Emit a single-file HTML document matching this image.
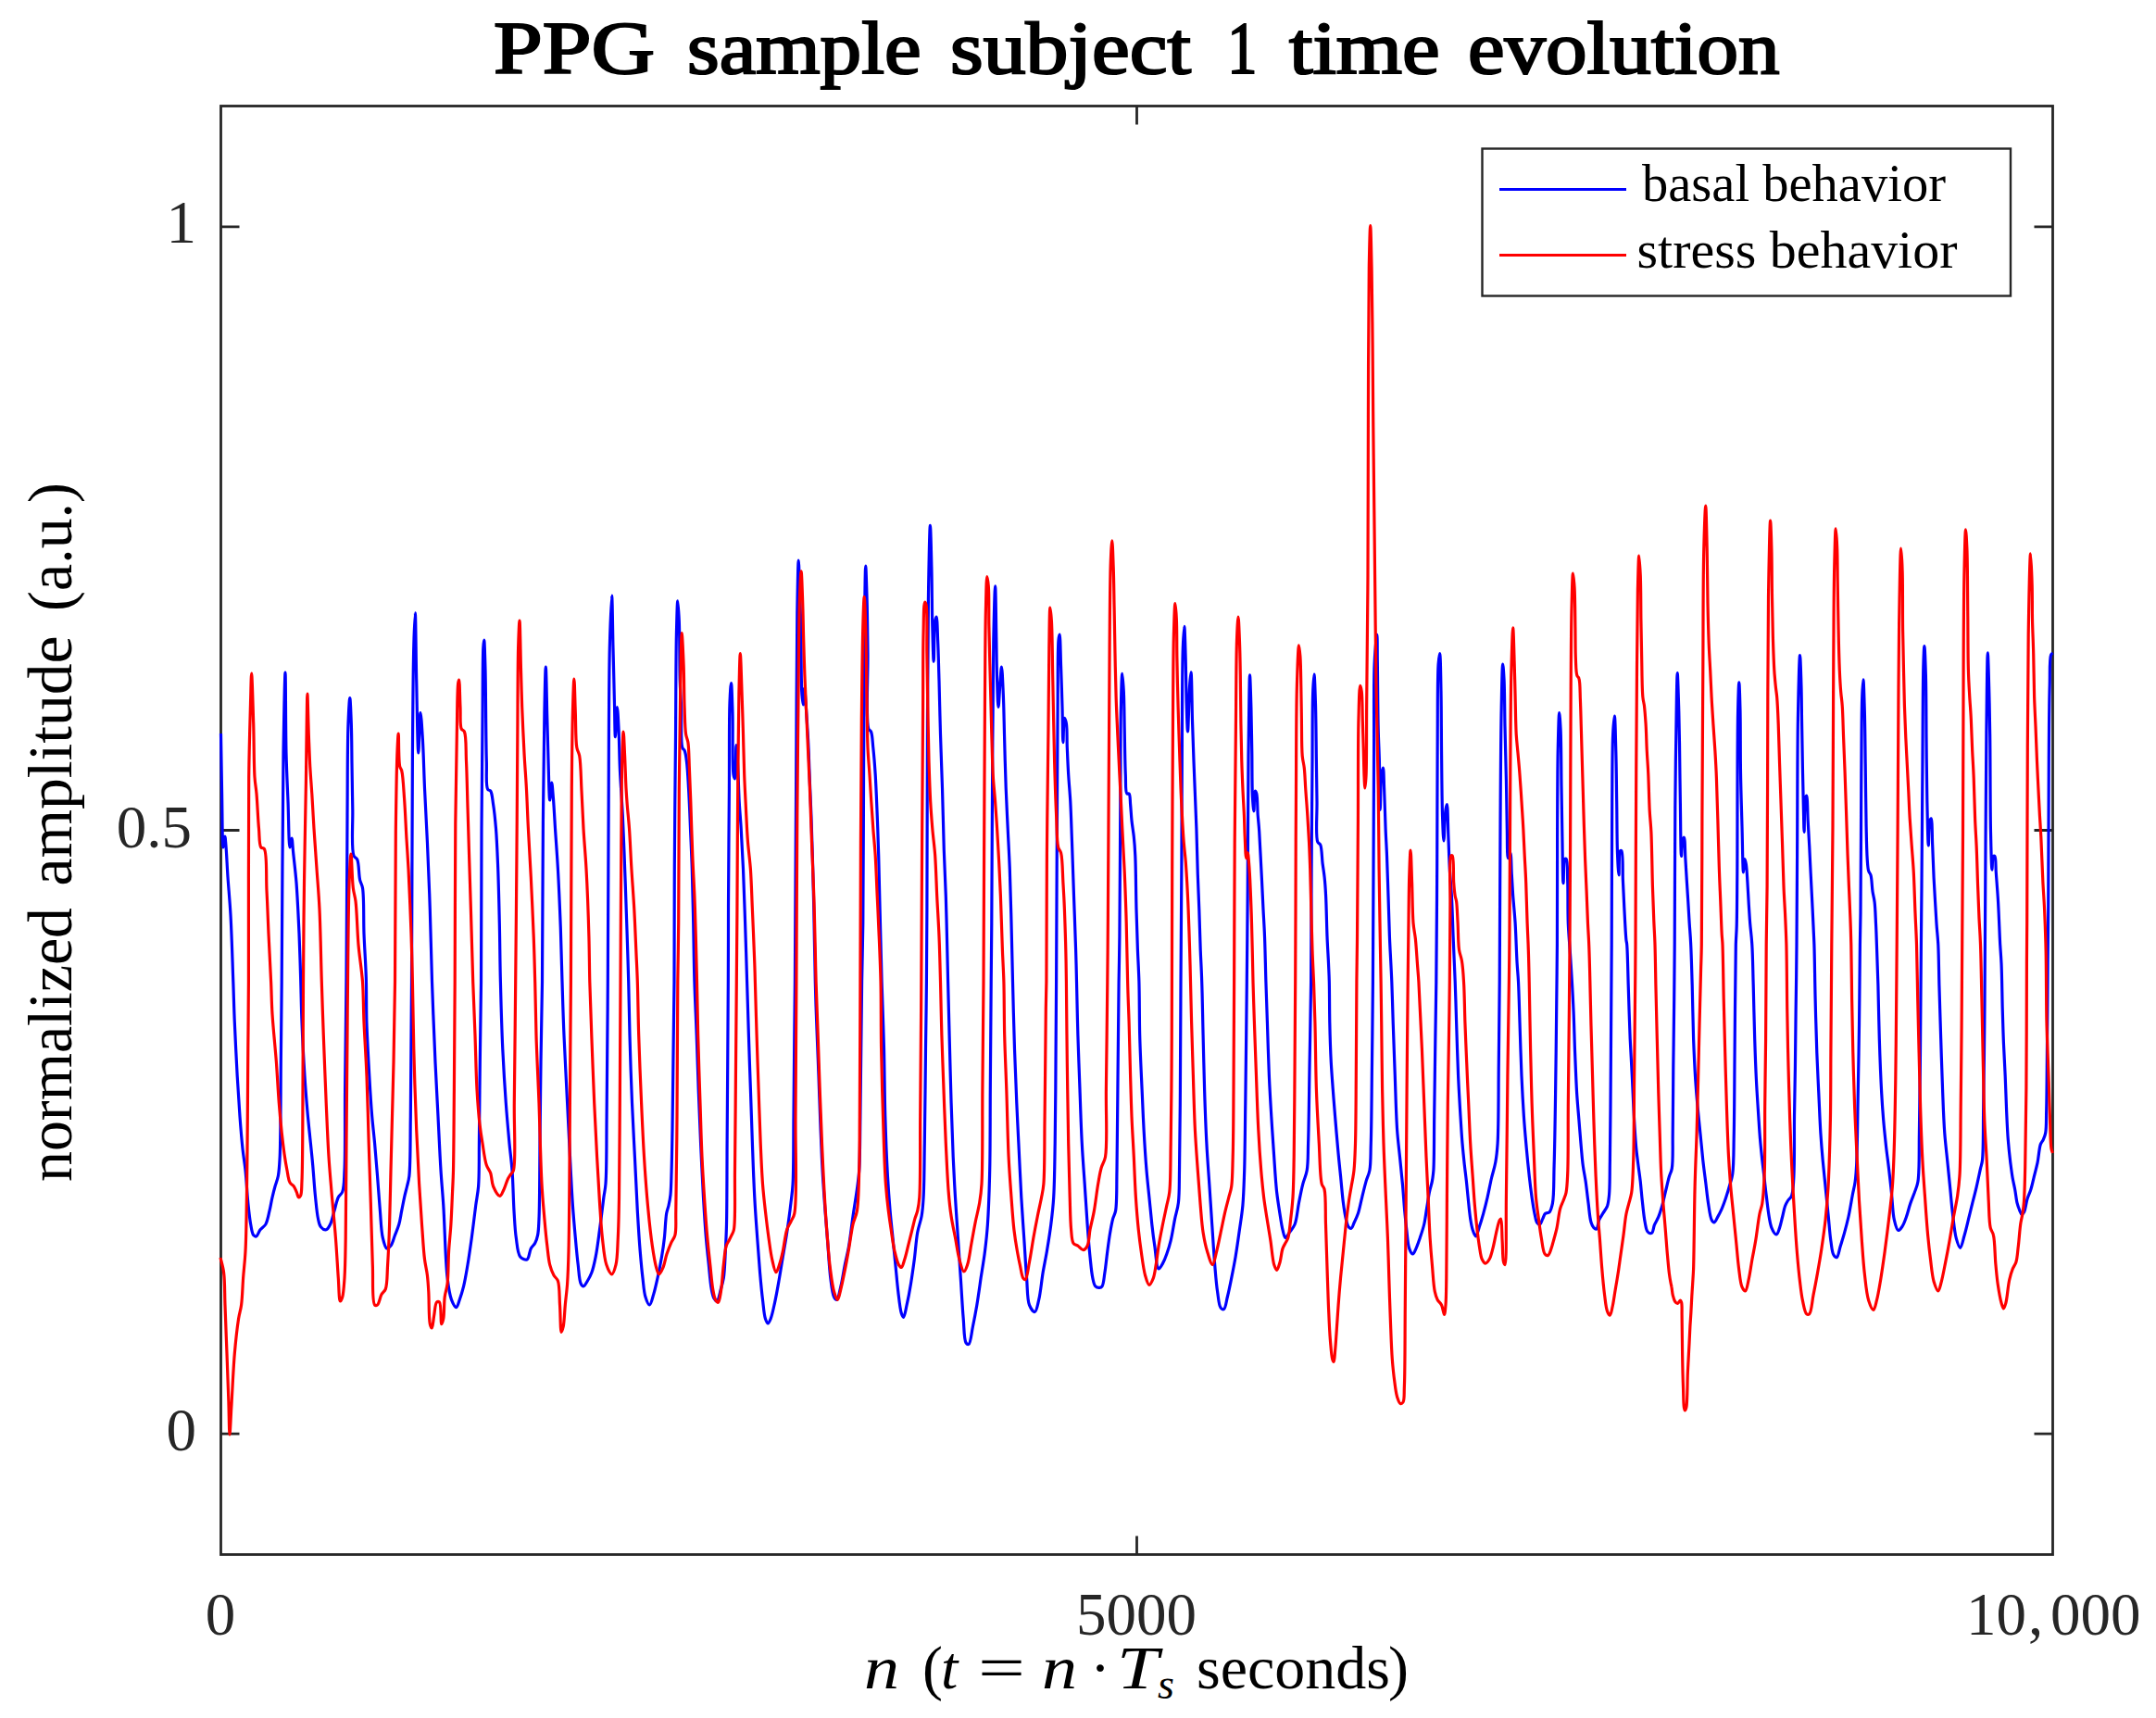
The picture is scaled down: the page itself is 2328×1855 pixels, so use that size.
<!DOCTYPE html>
<html><head><meta charset="utf-8"><title>PPG sample subject 1 time evolution</title>
<style>
html,body{margin:0;padding:0;background:#fff;}
body{width:2328px;height:1855px;overflow:hidden;}
svg{display:block;}
.t{font-family:"Liberation Serif","DejaVu Serif",serif;}
</style></head><body>
<svg width="2328" height="1855" viewBox="0 0 2328 1855">
<rect x="0" y="0" width="2328" height="1855" fill="#fff"/>
<g stroke="#262626" stroke-width="2.8" fill="none">
<rect x="238.5" y="114.5" width="1978" height="1564"/>
<path d="M238.5 244.8h20M238.5 896.5h20M238.5 1548.2h20M2216.5 244.8h-20M2216.5 896.5h-20M2216.5 1548.2h-20M1227.5 1678.5v-20M1227.5 114.5v20"/>
</g>
<g fill="none" stroke-width="3.2" stroke-linejoin="round">
<path stroke="#0000ff" d="M238.5,792.0C238.7,802.8 239.2,836.0 239.6,857.0C240.0,876.9 240.0,914.9 241.0,915.0C241.5,915.0 242.3,903.0 242.8,903.0C243.3,903.0 243.6,909.1 244.0,913.6C244.7,921.6 245.2,935.3 246.0,947.0C246.9,960.0 248.1,972.4 249.0,988.0C250.2,1008.6 251.0,1039.0 251.8,1060.0C252.4,1076.4 252.6,1088.1 253.3,1103.7C254.1,1121.7 255.2,1144.0 256.2,1162.0C257.1,1177.6 258.0,1191.8 259.0,1205.5C259.9,1217.8 260.9,1229.9 262.0,1240.4C262.9,1249.0 264.1,1255.1 265.0,1263.7C266.1,1274.2 266.7,1288.1 267.8,1298.6C268.7,1307.2 269.5,1315.6 270.7,1322.0C271.6,1326.6 272.1,1331.7 273.7,1333.6C274.5,1334.6 275.7,1335.3 276.6,1335.0C278.1,1334.6 279.3,1330.0 281.0,1327.8C282.7,1325.7 285.2,1324.6 286.8,1322.0C288.9,1318.4 289.8,1312.3 291.0,1307.4C292.2,1302.6 292.9,1297.4 294.0,1292.8C295.0,1288.6 295.9,1284.9 297.0,1281.0C298.1,1277.1 299.6,1273.9 300.4,1269.5C301.5,1263.7 301.7,1258.4 302.2,1249.0C303.2,1228.0 303.0,1179.6 303.3,1147.0C303.6,1116.8 303.9,1096.4 304.2,1060.0C304.7,998.7 305.1,874.3 306.0,813.0C306.6,776.6 307.5,726.0 308.0,726.0C308.5,726.0 308.4,787.6 309.0,813.0C309.5,832.7 310.3,848.3 311.0,865.6C311.7,882.3 311.8,914.9 313.0,915.0C313.6,915.0 314.4,905.0 315.0,905.0C315.7,905.0 316.0,914.8 316.7,921.0C317.6,929.8 319.0,940.9 320.0,953.0C321.2,968.9 322.2,990.4 323.0,1008.0C323.7,1024.3 324.1,1039.2 324.6,1055.0C325.1,1071.1 325.3,1086.7 326.0,1103.7C326.7,1122.3 327.9,1144.7 329.0,1162.0C329.9,1175.9 330.9,1188.0 331.9,1199.7C332.8,1210.0 333.8,1219.1 334.8,1228.8C335.8,1238.5 336.8,1247.8 337.7,1258.0C338.7,1269.1 339.5,1282.4 340.6,1292.8C341.5,1301.3 342.2,1310.2 343.5,1316.0C344.3,1319.7 344.7,1322.8 346.4,1324.8C347.8,1326.5 350.5,1328.2 352.2,1327.8C354.0,1327.4 355.3,1324.5 356.6,1322.0C358.5,1318.4 359.5,1312.3 361.0,1307.4C362.4,1302.5 363.5,1296.4 365.3,1292.8C366.6,1290.3 368.6,1289.8 369.7,1287.0C371.7,1282.0 371.5,1274.0 372.0,1263.7C373.0,1243.9 372.3,1207.9 372.6,1176.4C372.9,1139.3 373.6,1099.2 374.0,1055.0C374.5,1002.0 374.6,930.1 375.0,880.0C375.3,842.3 375.1,803.8 376.0,781.0C376.5,769.0 377.2,753.5 377.8,753.5C378.3,753.5 378.9,770.8 379.3,781.0C379.8,793.9 379.8,809.9 380.0,825.0C380.3,840.9 380.5,857.6 380.8,874.0C381.1,890.6 379.1,916.8 382.0,924.0C383.0,926.4 384.7,925.9 385.7,928.0C387.7,932.2 387.3,944.4 388.6,950.0C389.4,953.6 390.8,954.5 391.5,958.7C393.2,968.4 392.4,991.8 393.0,1008.0C393.6,1023.9 394.8,1039.2 395.3,1055.0C395.8,1071.1 395.4,1086.7 395.9,1103.7C396.5,1122.3 397.8,1144.0 398.8,1162.0C399.7,1177.6 400.6,1192.5 401.7,1205.5C402.6,1216.2 403.7,1224.5 404.6,1234.6C405.6,1245.7 406.6,1257.6 407.5,1269.5C408.5,1281.9 409.4,1295.6 410.4,1307.4C411.3,1317.7 411.5,1329.1 413.3,1336.5C414.4,1341.3 415.8,1347.4 417.7,1348.0C418.9,1348.4 420.7,1346.6 422.0,1345.0C423.9,1342.6 425.0,1337.4 426.5,1333.6C428.0,1329.8 429.6,1326.1 430.8,1322.0C432.1,1317.5 432.7,1312.3 433.7,1307.4C434.7,1302.5 435.6,1297.4 436.6,1292.8C437.5,1288.6 438.6,1284.9 439.5,1281.0C440.4,1277.1 441.3,1274.9 441.9,1269.5C443.3,1256.8 442.9,1231.2 443.3,1205.5C443.9,1166.8 444.2,1114.7 444.5,1060.0C444.9,989.1 444.9,882.9 445.4,816.0C445.8,769.2 446.0,724.7 446.8,696.8C447.2,681.7 447.9,661.9 448.3,661.9C448.9,661.9 449.1,709.9 449.7,734.6C450.3,760.2 450.9,813.0 451.8,813.0C452.4,813.0 453.1,769.5 454.0,769.5C454.7,769.5 455.7,787.5 456.4,798.6C457.3,813.5 457.7,833.1 458.5,851.0C459.3,869.8 460.5,888.6 461.4,909.0C462.4,931.9 463.5,957.3 464.3,982.0C465.2,1007.6 465.6,1033.3 466.5,1060.0C467.5,1088.2 468.8,1120.9 470.0,1147.0C471.0,1168.4 472.0,1186.0 473.0,1205.5C474.0,1224.9 474.9,1246.4 476.0,1263.7C476.9,1277.7 477.8,1286.7 478.8,1301.6C480.2,1323.0 480.9,1361.6 483.1,1380.0C484.3,1390.1 485.3,1397.7 487.5,1403.4C488.9,1407.0 491.2,1411.7 492.7,1411.6C494.1,1411.5 495.1,1406.6 496.2,1403.4C497.7,1399.3 499.3,1394.3 500.6,1388.9C502.3,1382.1 503.6,1373.8 505.0,1365.6C506.5,1356.5 507.9,1346.6 509.3,1336.5C510.8,1325.4 512.4,1311.7 513.7,1301.6C514.7,1293.8 515.9,1289.3 516.6,1281.0C517.6,1268.7 517.2,1252.5 517.4,1234.6C517.7,1210.0 517.9,1176.1 518.3,1147.0C518.6,1117.9 519.2,1093.6 519.5,1060.0C519.9,1013.7 519.7,945.0 520.0,894.7C520.2,852.5 520.7,813.3 521.0,778.3C521.3,749.5 521.1,712.8 521.8,699.7C522.0,695.3 522.4,691.0 522.7,691.0C523.2,691.0 523.6,709.4 524.0,723.0C524.6,746.9 524.6,798.4 525.3,822.0C525.7,835.1 524.3,848.8 526.7,852.5C527.5,853.7 528.9,852.9 529.7,854.0C531.4,856.3 531.7,862.9 532.6,868.5C533.8,875.9 534.7,885.2 535.5,894.7C536.4,906.1 536.9,918.2 537.5,932.5C538.3,951.0 538.8,975.2 539.3,996.5C539.8,1017.7 539.8,1038.1 540.4,1060.0C541.0,1083.4 541.7,1109.9 542.8,1132.8C543.8,1153.3 545.0,1173.0 546.3,1191.0C547.4,1206.6 548.8,1221.5 550.0,1234.6C551.0,1245.3 552.2,1253.0 553.0,1263.7C554.0,1276.8 554.2,1294.3 555.0,1307.4C555.7,1318.1 556.0,1327.7 557.3,1336.5C558.4,1343.9 558.7,1353.3 561.7,1356.9C563.6,1359.1 567.1,1360.8 569.0,1360.0C571.4,1359.0 571.6,1351.2 573.3,1348.0C574.6,1345.6 576.5,1344.5 577.7,1342.3C579.0,1339.8 579.9,1337.1 580.6,1333.6C581.6,1328.8 581.6,1324.0 582.0,1316.0C582.8,1298.8 582.7,1262.2 583.0,1234.6C583.3,1205.9 583.6,1176.1 584.0,1147.0C584.4,1117.9 585.1,1093.9 585.5,1060.0C586.0,1012.5 585.9,940.8 586.4,888.9C586.8,845.5 587.3,800.7 587.9,769.5C588.3,749.4 588.8,720.0 589.3,720.0C589.8,720.0 590.3,757.2 590.8,775.4C591.3,793.1 591.7,811.9 592.2,827.7C592.6,840.9 593.0,864.0 593.7,864.0C594.2,864.0 595.1,845.0 595.7,845.0C596.3,845.0 596.9,855.9 597.5,862.7C598.2,871.8 598.8,883.2 599.5,894.7C600.4,908.0 601.5,922.2 602.4,938.0C603.5,957.3 604.5,981.2 605.3,1002.0C606.0,1021.8 606.4,1040.7 607.0,1060.0C607.6,1079.3 608.1,1097.6 609.0,1118.0C610.0,1140.9 611.5,1168.1 612.6,1191.0C613.6,1211.4 614.5,1230.1 615.5,1249.0C616.4,1267.0 617.3,1285.9 618.4,1301.6C619.3,1314.4 620.3,1325.4 621.3,1336.5C622.2,1346.6 623.1,1356.8 624.2,1365.6C625.1,1373.0 625.4,1382.4 627.2,1386.0C628.0,1387.6 629.0,1389.0 630.0,1388.9C631.3,1388.8 633.0,1385.2 634.4,1383.0C636.0,1380.4 637.5,1377.8 638.8,1374.3C640.6,1369.6 641.9,1363.5 643.2,1356.9C644.9,1348.5 646.1,1338.0 647.5,1327.8C649.0,1316.7 650.7,1302.0 651.9,1292.8C652.7,1286.8 653.5,1284.8 654.0,1278.0C655.2,1263.0 654.8,1233.8 655.1,1205.5C655.6,1165.4 656.0,1111.1 656.3,1060.0C656.7,1003.2 656.8,940.0 657.1,880.0C657.4,819.9 657.3,742.9 658.3,699.7C658.9,675.5 660.0,643.0 660.6,643.0C661.2,643.0 661.5,680.4 662.0,699.7C662.5,719.7 663.1,743.3 663.5,760.8C663.8,774.1 663.9,795.7 664.4,795.7C664.9,795.7 665.8,763.7 666.4,763.7C666.9,763.7 667.5,775.8 667.9,784.0C668.6,796.4 668.7,814.9 669.4,830.7C670.1,846.9 671.4,862.0 672.3,880.0C673.4,901.9 674.3,930.1 675.2,953.0C676.0,973.4 676.6,992.5 677.2,1011.0C677.8,1028.0 678.2,1043.0 678.7,1060.0C679.2,1078.5 679.4,1097.6 680.0,1118.0C680.6,1140.9 681.5,1168.1 682.5,1191.0C683.4,1211.4 684.4,1229.6 685.4,1249.0C686.4,1268.4 687.3,1289.4 688.3,1307.4C689.2,1323.0 690.1,1338.0 691.2,1351.0C692.1,1361.7 692.9,1371.2 694.0,1380.0C694.9,1387.4 695.3,1395.3 697.0,1400.5C698.1,1404.1 700.0,1409.1 701.4,1409.0C703.0,1408.9 704.4,1401.9 705.7,1397.6C707.3,1392.4 708.6,1386.3 710.0,1380.0C711.6,1372.8 713.2,1364.4 714.5,1356.9C715.7,1349.9 716.6,1343.8 717.4,1336.5C718.3,1328.3 718.6,1316.3 719.7,1310.0C720.3,1306.4 721.3,1304.6 722.0,1301.6C722.8,1298.1 723.5,1294.7 724.0,1290.0C724.7,1283.0 724.8,1273.6 725.1,1263.7C725.5,1251.0 725.7,1236.4 726.0,1220.0C726.3,1198.8 726.6,1172.4 726.9,1147.0C727.2,1119.3 727.8,1091.6 728.0,1060.0C728.3,1022.2 728.1,978.1 728.3,935.4C728.5,890.2 729.1,839.6 729.5,795.7C729.8,756.7 729.8,711.8 730.4,685.0C730.8,669.6 731.2,648.8 731.8,648.8C732.2,648.8 732.9,661.4 733.3,670.6C734.0,686.3 733.7,717.4 734.2,734.6C734.6,746.2 735.2,753.0 735.6,763.7C736.1,776.8 734.7,801.5 736.8,807.4C737.4,809.1 738.5,808.9 739.1,810.3C740.3,812.8 740.8,817.2 741.4,822.0C742.4,829.5 742.9,840.3 743.5,851.0C744.3,864.1 744.9,880.1 745.5,894.7C746.1,909.3 746.8,922.8 747.3,938.4C747.9,956.4 748.3,976.7 748.7,996.5C749.1,1017.2 749.3,1039.3 749.9,1060.0C750.5,1079.8 751.5,1098.6 752.2,1118.0C752.9,1137.4 753.5,1157.0 754.2,1176.4C754.9,1195.8 755.7,1215.2 756.6,1234.6C757.5,1254.0 758.5,1274.8 759.5,1292.8C760.4,1308.4 761.3,1323.4 762.4,1336.5C763.3,1347.2 764.3,1356.2 765.3,1365.6C766.2,1374.6 766.9,1385.1 768.2,1391.8C769.0,1396.0 769.7,1399.7 771.0,1402.0C771.8,1403.4 773.1,1405.1 774.0,1404.9C775.7,1404.5 777.2,1396.1 778.4,1391.8C779.6,1387.8 780.5,1384.8 781.3,1380.0C782.5,1372.5 782.8,1360.7 783.3,1351.0C783.8,1341.3 784.2,1334.3 784.5,1322.0C785.0,1300.7 784.9,1268.7 785.1,1234.6C785.4,1186.4 786.1,1107.2 786.3,1060.0C786.5,1027.9 786.4,1009.1 786.5,979.0C786.7,941.2 787.1,890.3 787.4,851.0C787.6,817.5 787.2,777.8 788.0,758.0C788.4,748.7 789.0,737.5 789.5,737.5C790.1,737.5 790.6,756.9 791.0,769.5C791.6,787.8 790.4,827.5 792.0,836.5C792.4,838.8 793.1,840.9 793.5,840.8C794.7,840.6 794.4,804.5 795.0,804.5C795.4,804.5 796.0,814.9 796.4,822.0C797.1,833.3 797.5,852.5 798.2,865.6C798.8,876.3 799.6,884.0 800.2,894.7C801.0,907.8 801.8,922.8 802.5,938.4C803.3,956.4 803.9,976.7 804.6,996.5C805.3,1017.2 806.0,1039.3 806.6,1060.0C807.2,1079.8 807.8,1098.6 808.4,1118.0C809.0,1137.4 809.7,1157.0 810.4,1176.4C811.1,1195.8 811.7,1215.2 812.4,1234.6C813.1,1254.0 813.8,1274.8 814.8,1292.8C815.6,1308.4 816.7,1322.5 817.7,1336.5C818.6,1349.6 819.6,1362.5 820.6,1374.3C821.5,1384.6 822.4,1394.6 823.5,1403.4C824.4,1410.8 824.9,1419.3 826.4,1423.8C827.2,1426.2 828.3,1429.0 829.3,1429.0C830.3,1429.0 831.3,1426.1 832.2,1423.8C833.8,1419.8 835.2,1412.6 836.6,1406.3C838.2,1399.1 839.6,1391.0 841.0,1383.0C842.5,1374.6 843.9,1365.6 845.3,1356.9C846.8,1348.2 848.3,1339.9 849.7,1330.7C851.2,1320.6 852.9,1308.1 854.0,1298.6C854.9,1291.1 855.6,1287.2 856.1,1278.3C857.1,1261.5 856.7,1230.9 857.0,1205.5C857.3,1177.7 857.5,1144.2 857.8,1118.0C858.0,1096.7 858.2,1082.3 858.4,1060.0C858.6,1029.7 858.8,991.8 859.0,952.9C859.3,906.1 859.6,848.5 859.9,798.6C860.2,751.7 860.2,697.6 860.8,661.9C861.2,638.8 861.7,605.0 862.2,605.0C862.6,605.0 863.0,622.5 863.4,632.8C863.9,645.7 864.4,660.2 864.8,676.4C865.3,697.0 864.9,731.7 865.7,746.3C866.1,753.0 866.7,760.8 867.2,760.8C867.7,760.8 868.1,743.4 868.6,743.4C869.0,743.4 869.6,752.6 870.0,758.0C870.5,764.8 871.0,773.2 871.5,781.2C872.0,789.7 872.6,797.9 873.0,807.4C873.5,818.8 873.9,832.9 874.4,845.2C874.9,857.1 875.4,867.8 875.9,880.1C876.4,893.8 876.8,908.2 877.3,923.8C877.8,941.8 878.3,961.2 878.8,982.0C879.3,1006.1 879.7,1037.7 880.3,1060.0C880.7,1076.7 881.1,1088.1 881.7,1103.7C882.3,1121.7 883.3,1142.5 884.0,1161.9C884.7,1181.3 885.4,1202.0 886.1,1220.0C886.7,1235.6 887.3,1249.1 888.1,1263.7C888.9,1278.3 890.0,1293.4 891.0,1307.4C892.0,1320.5 893.0,1332.9 894.0,1345.2C894.9,1357.0 895.5,1370.0 896.8,1380.0C897.8,1387.8 898.7,1396.9 900.6,1400.5C901.4,1402.1 902.6,1403.6 903.5,1403.4C905.2,1403.0 906.6,1394.3 907.9,1388.9C909.6,1382.1 910.8,1373.1 912.3,1365.6C913.7,1358.6 915.3,1352.8 916.6,1345.2C918.2,1335.8 919.5,1323.6 921.0,1313.2C922.4,1303.3 924.2,1293.0 925.4,1284.1C926.4,1276.7 927.1,1272.3 927.7,1263.7C928.7,1249.3 928.5,1229.3 928.9,1205.5C929.5,1167.9 930.0,1098.6 930.6,1060.0C931.0,1034.5 931.5,1022.9 931.8,996.5C932.3,952.7 932.3,877.5 932.6,822.0C932.9,771.3 933.0,715.3 933.5,676.4C933.8,650.3 934.2,611.0 934.7,611.0C935.1,611.0 935.7,633.8 936.1,647.3C936.6,664.4 936.7,684.5 937.0,705.5C937.3,730.4 934.6,778.4 937.9,787.0C938.6,788.9 939.8,788.4 940.5,790.0C942.0,793.3 942.1,800.8 942.8,807.4C943.7,815.9 944.5,825.8 945.2,836.5C946.0,849.6 946.6,865.6 947.2,880.1C947.8,894.7 948.2,908.2 948.7,923.8C949.2,941.8 949.6,961.2 950.1,982.0C950.7,1006.1 951.4,1034.4 952.1,1060.0C952.8,1084.7 953.9,1108.5 954.5,1132.8C955.1,1157.0 955.1,1182.6 955.8,1205.5C956.4,1226.0 957.1,1245.7 958.1,1263.7C958.9,1279.3 960.0,1294.3 961.1,1307.4C962.0,1318.1 963.0,1326.8 964.0,1336.5C965.0,1346.2 965.9,1355.9 966.9,1365.6C967.9,1375.3 968.7,1385.6 969.8,1394.7C970.8,1402.9 971.8,1413.4 973.3,1418.0C974.0,1420.1 974.9,1422.4 975.6,1422.3C976.8,1422.2 978.0,1414.2 979.1,1409.2C980.6,1402.6 982.2,1394.0 983.5,1386.0C984.9,1377.5 986.1,1368.8 987.3,1359.8C988.5,1350.4 989.2,1339.1 990.7,1330.7C991.9,1324.1 994.0,1319.3 995.1,1313.2C996.2,1306.7 996.6,1301.4 997.1,1292.8C998.0,1278.4 997.9,1256.7 998.3,1234.6C998.8,1205.4 999.1,1163.9 999.5,1132.8C999.8,1106.5 1000.2,1084.7 1000.4,1060.0C1000.6,1034.4 1000.7,1014.2 1000.9,982.0C1001.1,929.6 1001.2,836.1 1001.5,775.4C1001.7,727.6 1001.8,685.0 1002.4,647.3C1002.9,617.5 1003.7,567.3 1004.4,567.3C1004.9,567.3 1005.5,596.1 1005.9,612.4C1006.4,631.9 1006.3,657.9 1006.8,676.4C1007.2,690.7 1007.7,714.2 1008.2,714.2C1008.7,714.2 1008.5,677.6 1009.7,670.6C1010.1,668.3 1010.7,666.2 1011.1,666.2C1012.0,666.3 1012.2,681.6 1012.6,691.0C1013.2,703.5 1013.5,719.0 1014.0,734.6C1014.5,752.6 1014.9,773.4 1015.5,792.8C1016.1,812.2 1016.9,830.9 1017.5,851.0C1018.2,872.5 1018.6,897.4 1019.3,918.0C1019.9,935.7 1020.7,950.3 1021.3,967.4C1021.9,986.0 1022.4,1008.7 1022.8,1025.6C1023.1,1038.6 1023.3,1047.0 1023.6,1060.0C1024.0,1076.8 1024.6,1097.6 1025.1,1118.0C1025.7,1140.9 1026.4,1168.0 1027.1,1191.0C1027.8,1211.5 1028.4,1231.2 1029.2,1249.2C1029.9,1264.8 1030.6,1278.3 1031.5,1292.8C1032.4,1307.4 1033.4,1321.9 1034.4,1336.5C1035.4,1351.0 1036.3,1365.6 1037.3,1380.1C1038.3,1394.7 1039.1,1411.1 1040.2,1423.8C1041.1,1433.7 1040.8,1446.7 1043.1,1450.0C1043.9,1451.1 1045.1,1451.8 1046.0,1451.4C1048.1,1450.4 1049.0,1439.1 1050.4,1432.5C1051.9,1425.2 1053.4,1417.4 1054.8,1409.2C1056.3,1400.1 1057.7,1389.8 1059.1,1380.1C1060.6,1370.4 1062.3,1360.7 1063.5,1351.0C1064.7,1341.3 1065.6,1333.4 1066.4,1322.0C1067.5,1305.9 1068.2,1285.1 1068.7,1263.7C1069.3,1237.5 1069.1,1207.6 1069.3,1176.4C1069.6,1140.4 1069.9,1093.0 1070.2,1060.0C1070.4,1035.7 1070.6,1022.9 1070.8,996.5C1071.1,952.7 1071.3,876.0 1071.7,822.0C1072.0,775.2 1072.1,725.9 1072.8,691.0C1073.3,667.7 1074.1,632.8 1074.6,632.8C1075.1,632.8 1075.4,665.5 1075.7,682.2C1076.0,699.4 1076.1,719.7 1076.6,734.6C1077.0,745.7 1077.4,763.7 1078.0,763.7C1078.6,763.7 1079.4,742.6 1080.1,734.6C1080.6,728.9 1081.1,720.0 1081.5,720.0C1082.1,720.0 1082.8,738.5 1083.3,749.2C1083.9,762.3 1084.1,777.2 1084.5,792.8C1085.0,810.8 1085.5,833.0 1086.2,851.0C1086.8,866.6 1087.5,880.1 1088.2,894.7C1088.9,909.3 1089.7,922.8 1090.3,938.4C1091.0,956.4 1091.5,976.7 1092.0,996.5C1092.5,1017.2 1092.9,1038.1 1093.5,1060.0C1094.1,1083.4 1094.7,1109.9 1095.5,1132.8C1096.2,1153.3 1097.0,1173.0 1097.8,1191.0C1098.5,1206.6 1099.1,1219.0 1099.9,1234.6C1100.8,1252.6 1101.8,1274.8 1102.8,1292.8C1103.7,1308.4 1104.7,1321.9 1105.7,1336.5C1106.7,1351.0 1107.5,1367.0 1108.6,1380.1C1109.5,1390.8 1109.0,1402.9 1111.5,1409.2C1112.9,1412.7 1115.7,1416.8 1117.3,1416.5C1119.3,1416.2 1120.4,1408.7 1121.7,1403.4C1123.6,1395.7 1124.6,1383.4 1126.1,1374.3C1127.5,1366.1 1129.0,1359.2 1130.4,1351.0C1131.9,1341.9 1133.6,1331.7 1134.8,1322.0C1136.0,1312.3 1137.0,1304.2 1137.7,1292.8C1138.7,1276.7 1138.8,1256.0 1139.2,1234.6C1139.7,1208.4 1139.8,1176.4 1140.0,1147.3C1140.2,1118.2 1140.4,1092.0 1140.6,1060.0C1140.8,1020.9 1141.0,975.7 1141.2,929.6C1141.5,877.6 1141.7,807.8 1142.1,763.7C1142.4,734.5 1141.9,701.7 1143.0,691.0C1143.3,687.9 1143.8,685.1 1144.1,685.1C1144.9,685.2 1145.1,707.7 1145.6,720.0C1146.1,733.7 1146.6,749.7 1147.0,763.7C1147.4,776.8 1147.4,801.6 1147.9,801.6C1148.3,801.6 1148.3,775.6 1149.4,775.4C1149.9,775.3 1150.9,778.5 1151.4,781.2C1152.4,786.7 1151.9,798.4 1152.3,807.4C1152.7,816.8 1153.1,826.8 1153.7,836.5C1154.3,846.2 1155.2,854.9 1155.8,865.6C1156.5,878.7 1156.9,893.6 1157.5,909.2C1158.2,927.2 1158.8,948.0 1159.5,967.4C1160.2,986.8 1161.1,1008.7 1161.6,1025.6C1162.0,1038.6 1162.2,1047.0 1162.5,1060.0C1162.9,1076.8 1163.3,1098.6 1163.9,1118.0C1164.5,1137.4 1165.3,1157.0 1166.0,1176.4C1166.7,1195.8 1167.3,1216.6 1168.3,1234.6C1169.1,1250.2 1170.2,1263.7 1171.2,1278.3C1172.2,1292.9 1173.1,1308.3 1174.1,1322.0C1175.0,1334.3 1175.9,1346.5 1177.0,1356.9C1177.9,1365.4 1178.6,1374.3 1179.9,1380.1C1180.7,1383.8 1181.2,1387.3 1182.8,1388.9C1183.9,1390.0 1185.9,1390.4 1187.2,1390.3C1188.3,1390.2 1189.2,1389.9 1190.0,1388.9C1191.7,1386.7 1192.0,1379.8 1192.9,1374.3C1194.0,1367.5 1194.8,1358.5 1195.8,1351.0C1196.7,1344.0 1197.6,1336.9 1198.7,1330.7C1199.6,1325.4 1200.5,1320.3 1201.6,1316.1C1202.5,1312.8 1203.8,1311.5 1204.6,1307.4C1206.2,1298.5 1205.6,1280.8 1206.0,1263.7C1206.5,1239.6 1206.6,1207.6 1206.9,1176.4C1207.3,1140.4 1207.7,1090.5 1208.1,1060.0C1208.4,1040.2 1208.7,1031.7 1208.9,1011.0C1209.3,975.4 1209.5,909.8 1209.8,865.6C1210.0,828.6 1209.8,789.1 1210.4,763.7C1210.7,748.5 1211.2,727.3 1211.8,727.3C1212.2,727.3 1212.9,738.8 1213.3,746.3C1213.9,757.3 1213.9,772.8 1214.2,787.0C1214.5,802.7 1214.7,823.6 1215.3,836.5C1215.7,844.8 1215.0,855.2 1216.8,856.9C1217.4,857.5 1218.5,856.4 1219.1,856.9C1220.5,858.1 1220.2,864.2 1220.6,868.5C1221.1,873.7 1221.4,880.2 1222.0,886.0C1222.6,891.8 1223.7,897.4 1224.3,903.4C1225.0,909.9 1225.4,915.3 1225.8,923.8C1226.5,938.2 1226.5,964.0 1227.0,982.0C1227.4,997.6 1227.9,1011.9 1228.4,1025.6C1228.9,1037.7 1229.5,1047.0 1229.9,1060.0C1230.4,1076.8 1230.2,1098.6 1230.7,1118.0C1231.2,1137.4 1232.3,1158.4 1233.1,1176.4C1233.8,1192.0 1234.3,1205.5 1235.1,1220.0C1235.9,1234.6 1236.9,1250.6 1238.0,1263.7C1238.9,1274.4 1239.9,1283.1 1240.9,1292.8C1241.9,1302.5 1242.8,1312.8 1243.8,1322.0C1244.7,1330.2 1245.6,1337.4 1246.8,1345.2C1248.0,1353.3 1248.8,1369.5 1251.1,1370.0C1252.3,1370.3 1254.2,1366.4 1255.5,1364.1C1257.1,1361.3 1258.5,1357.7 1259.8,1354.0C1261.4,1349.6 1262.9,1344.9 1264.2,1339.4C1265.9,1332.6 1267.1,1323.3 1268.6,1316.1C1269.9,1309.8 1271.6,1305.5 1272.4,1298.6C1273.6,1289.0 1273.2,1278.0 1273.5,1263.7C1274.0,1241.2 1274.2,1207.6 1274.4,1176.4C1274.7,1140.4 1274.8,1099.7 1275.0,1060.0C1275.3,1018.5 1275.7,975.5 1275.9,932.5C1276.1,888.4 1276.1,839.9 1276.4,798.6C1276.6,763.1 1276.5,721.2 1277.3,699.7C1277.7,689.2 1278.4,676.4 1278.8,676.4C1279.3,676.4 1279.8,698.8 1280.2,711.3C1280.6,725.7 1280.7,743.8 1281.1,757.9C1281.5,769.6 1282.0,789.9 1282.5,789.9C1283.1,789.9 1283.8,752.0 1284.6,740.4C1285.0,734.1 1285.6,725.9 1286.0,725.9C1286.8,725.9 1287.0,761.6 1287.5,778.3C1288.0,793.5 1288.5,808.3 1289.0,822.0C1289.5,834.3 1289.9,845.0 1290.4,856.9C1290.9,869.2 1291.4,881.3 1291.9,894.7C1292.4,910.1 1292.8,928.8 1293.3,944.2C1293.8,957.6 1294.3,968.9 1294.8,982.0C1295.3,996.0 1295.7,1011.9 1296.2,1025.6C1296.7,1037.7 1297.3,1047.0 1297.7,1060.0C1298.3,1076.8 1298.6,1098.6 1299.1,1118.0C1299.6,1137.4 1300.0,1157.0 1300.6,1176.4C1301.2,1195.8 1301.9,1216.6 1302.9,1234.6C1303.7,1250.2 1304.8,1263.7 1305.8,1278.3C1306.8,1292.9 1307.7,1307.4 1308.7,1322.0C1309.7,1336.5 1310.6,1352.5 1311.7,1365.6C1312.6,1376.3 1313.3,1386.3 1314.6,1394.7C1315.6,1401.3 1316.0,1409.5 1318.1,1412.1C1319.0,1413.3 1320.5,1414.1 1321.5,1413.6C1323.4,1412.7 1324.1,1405.4 1325.3,1400.5C1326.8,1394.5 1328.3,1387.1 1329.7,1380.1C1331.2,1372.6 1332.7,1365.1 1334.1,1356.9C1335.6,1347.8 1337.1,1337.2 1338.4,1327.8C1339.7,1318.8 1341.0,1311.2 1341.9,1301.6C1342.9,1290.1 1343.2,1278.4 1343.7,1263.7C1344.3,1243.4 1344.4,1218.8 1344.8,1191.0C1345.3,1153.7 1345.9,1100.5 1346.3,1060.0C1346.7,1024.9 1346.9,997.6 1347.2,961.6C1347.5,917.8 1347.6,855.3 1348.0,816.1C1348.3,789.5 1348.6,765.1 1348.9,749.2C1349.1,740.4 1349.2,728.8 1349.5,728.8C1349.9,728.8 1350.5,751.1 1350.9,763.7C1351.3,778.8 1351.5,796.9 1351.8,813.2C1352.0,829.0 1351.8,848.3 1352.4,859.8C1352.8,866.5 1353.4,875.8 1353.9,875.8C1354.4,875.8 1354.2,854.2 1355.3,854.0C1355.7,853.9 1356.4,855.4 1356.8,856.9C1357.9,860.9 1357.7,872.9 1358.2,880.1C1358.7,886.3 1359.3,891.2 1359.7,897.6C1360.2,905.5 1360.6,914.8 1361.1,923.8C1361.6,933.2 1362.1,943.2 1362.6,952.9C1363.1,962.6 1363.5,972.3 1364.0,982.0C1364.5,991.7 1365.1,1000.1 1365.5,1011.0C1366.1,1025.2 1366.4,1044.1 1366.9,1060.0C1367.4,1075.0 1367.9,1088.1 1368.4,1103.7C1369.0,1121.7 1369.6,1143.9 1370.4,1161.9C1371.1,1177.5 1371.9,1191.0 1372.8,1205.5C1373.7,1220.1 1374.7,1235.2 1375.7,1249.2C1376.6,1262.3 1377.4,1276.3 1378.6,1287.0C1379.5,1294.9 1380.4,1300.6 1381.5,1307.4C1382.6,1314.2 1383.7,1322.5 1385.0,1327.8C1385.9,1331.3 1386.6,1336.3 1387.9,1336.5C1389.1,1336.7 1390.8,1332.9 1392.3,1330.7C1394.1,1328.1 1396.5,1325.8 1398.1,1322.0C1400.4,1316.3 1401.0,1306.1 1402.5,1298.6C1403.9,1291.6 1405.2,1284.5 1406.8,1278.3C1408.2,1273.0 1410.2,1269.5 1411.2,1263.7C1412.6,1255.7 1412.2,1246.9 1412.6,1234.6C1413.3,1213.3 1413.6,1176.4 1414.1,1147.3C1414.6,1118.2 1415.3,1091.5 1415.6,1060.0C1416.0,1022.8 1415.9,978.5 1416.1,938.4C1416.3,899.2 1416.7,856.3 1417.0,822.0C1417.2,794.9 1417.0,766.2 1417.6,749.2C1417.9,740.1 1418.6,728.2 1419.0,728.2C1419.5,728.2 1420.1,748.2 1420.5,760.8C1421.0,778.0 1421.1,803.3 1421.4,822.0C1421.6,837.8 1421.8,851.1 1422.0,865.6C1422.2,880.1 1420.3,903.4 1422.8,909.2C1423.6,911.0 1424.9,910.5 1425.7,912.1C1427.4,915.7 1427.3,926.3 1428.1,932.5C1428.8,937.8 1429.5,941.8 1430.1,947.1C1430.8,953.3 1431.2,959.4 1431.6,967.4C1432.2,979.2 1432.5,997.9 1433.0,1011.0C1433.4,1021.7 1434.1,1031.4 1434.5,1040.2C1434.8,1047.4 1435.1,1052.1 1435.3,1060.0C1435.6,1071.7 1435.5,1089.1 1435.8,1103.7C1436.1,1118.2 1436.6,1134.2 1437.3,1147.3C1437.9,1158.0 1438.6,1166.7 1439.3,1176.4C1440.0,1186.1 1440.8,1195.4 1441.6,1205.5C1442.5,1216.6 1443.6,1229.3 1444.6,1240.4C1445.5,1250.5 1446.5,1259.8 1447.5,1269.5C1448.5,1279.2 1449.3,1290.1 1450.4,1298.6C1451.3,1305.2 1452.1,1311.3 1453.3,1316.1C1454.2,1319.5 1454.8,1323.2 1456.2,1324.8C1457.0,1325.8 1458.2,1326.6 1459.1,1326.3C1460.3,1325.9 1461.0,1322.7 1462.0,1320.5C1463.4,1317.6 1465.1,1314.2 1466.4,1310.3C1468.1,1305.3 1469.2,1298.6 1470.7,1292.8C1472.1,1287.0 1473.6,1280.6 1475.1,1275.4C1476.3,1271.1 1478.0,1268.5 1478.9,1263.7C1480.3,1256.2 1479.9,1246.9 1480.3,1234.6C1481.0,1213.3 1481.1,1176.4 1481.5,1147.3C1481.8,1118.2 1482.2,1091.5 1482.4,1060.0C1482.7,1022.8 1482.8,979.7 1483.0,938.4C1483.2,895.5 1483.4,847.0 1483.6,807.4C1483.8,774.5 1483.1,739.7 1484.1,717.2C1484.7,703.8 1486.3,685.1 1486.8,685.1C1487.3,685.1 1487.1,702.3 1487.3,714.2C1487.6,733.0 1487.7,767.1 1488.2,787.0C1488.5,800.8 1489.1,809.2 1489.4,822.0C1489.8,837.7 1489.8,874.3 1490.2,874.3C1490.6,874.3 1490.7,844.2 1491.7,836.5C1492.2,833.1 1493.0,829.2 1493.4,829.2C1494.2,829.3 1494.2,842.5 1494.6,851.0C1495.1,863.1 1495.6,881.6 1496.1,894.7C1496.5,905.4 1497.1,913.1 1497.5,923.8C1498.0,936.9 1498.5,952.9 1499.0,967.4C1499.5,981.9 1499.8,996.0 1500.4,1011.0C1501.0,1026.9 1502.2,1044.1 1502.8,1060.0C1503.4,1075.0 1503.7,1088.1 1504.2,1103.7C1504.8,1121.7 1505.6,1142.5 1506.3,1161.9C1507.0,1181.3 1507.5,1203.9 1508.6,1220.0C1509.4,1231.4 1510.5,1239.5 1511.5,1249.2C1512.5,1258.9 1513.5,1268.6 1514.4,1278.3C1515.3,1288.0 1515.9,1298.6 1516.7,1307.4C1517.4,1314.8 1518.0,1321.0 1518.8,1327.8C1519.6,1334.6 1520.0,1343.5 1521.7,1348.1C1522.7,1350.8 1524.3,1354.0 1525.5,1354.0C1526.7,1354.0 1527.9,1350.5 1529.0,1348.1C1530.5,1344.9 1531.9,1340.6 1533.3,1336.5C1534.8,1332.0 1536.5,1327.1 1537.7,1322.0C1539.0,1316.5 1539.6,1310.3 1540.6,1304.5C1541.6,1298.7 1542.4,1292.2 1543.5,1287.0C1544.4,1282.7 1545.7,1279.3 1546.4,1275.4C1547.1,1271.5 1547.5,1269.1 1547.9,1263.7C1548.7,1251.7 1548.4,1226.9 1548.7,1205.5C1549.1,1179.3 1549.5,1144.2 1549.9,1118.0C1550.2,1096.7 1550.5,1083.1 1550.8,1060.0C1551.2,1025.8 1551.5,976.0 1551.7,932.5C1551.9,887.0 1551.9,832.3 1552.2,792.8C1552.4,763.8 1552.1,731.4 1553.1,717.2C1553.5,711.6 1554.2,705.5 1554.6,705.5C1555.4,705.5 1555.7,730.9 1556.0,746.3C1556.4,766.5 1556.3,793.3 1556.6,816.1C1556.8,837.9 1557.0,863.2 1557.5,880.1C1557.9,891.2 1558.4,907.8 1558.9,907.8C1559.5,907.8 1560.0,880.8 1561.0,874.3C1561.4,871.5 1562.0,868.5 1562.4,868.5C1563.3,868.6 1563.4,891.8 1563.9,903.4C1564.4,915.1 1564.7,927.3 1565.3,938.4C1565.9,948.5 1566.8,956.7 1567.4,967.4C1568.1,980.5 1568.5,996.0 1569.1,1011.0C1569.7,1026.9 1570.6,1044.1 1571.2,1060.0C1571.8,1075.0 1572.1,1088.1 1572.6,1103.7C1573.2,1121.7 1573.8,1143.9 1574.6,1161.9C1575.3,1177.5 1576.2,1192.4 1577.0,1205.5C1577.7,1216.2 1578.2,1225.4 1579.0,1234.6C1579.7,1242.8 1580.5,1250.4 1581.3,1257.9C1582.1,1264.9 1583.0,1271.5 1583.7,1278.3C1584.4,1285.1 1585.0,1292.1 1585.7,1298.6C1586.3,1304.7 1586.9,1310.9 1587.7,1316.1C1588.4,1320.4 1589.0,1324.4 1590.1,1327.8C1591.0,1330.6 1592.5,1335.1 1593.6,1335.0C1594.9,1334.9 1596.1,1328.5 1597.3,1324.8C1598.8,1320.4 1600.3,1315.4 1601.7,1310.3C1603.2,1304.8 1604.7,1298.9 1606.1,1292.8C1607.6,1286.3 1608.9,1279.0 1610.4,1272.5C1611.8,1266.4 1613.7,1261.1 1614.8,1255.0C1616.0,1248.5 1616.5,1243.8 1617.1,1234.6C1618.3,1215.7 1617.9,1176.4 1618.3,1147.3C1618.6,1118.2 1618.9,1094.0 1619.2,1060.0C1619.6,1012.5 1619.6,941.5 1620.0,888.9C1620.3,843.9 1620.5,795.3 1621.2,763.7C1621.6,744.4 1622.0,717.2 1622.7,717.2C1623.1,717.2 1623.7,727.3 1624.1,734.6C1624.7,746.9 1624.6,766.9 1625.0,784.1C1625.4,802.7 1626.0,823.4 1626.4,842.3C1626.8,860.2 1626.9,879.4 1627.3,894.7C1627.6,906.7 1627.2,926.5 1628.5,926.7C1629.1,926.8 1630.2,920.8 1630.8,920.9C1631.9,921.1 1631.8,936.4 1632.3,944.2C1632.8,951.9 1633.1,959.2 1633.7,967.4C1634.4,976.6 1635.4,985.8 1636.1,996.5C1636.9,1009.6 1637.4,1028.5 1638.1,1040.2C1638.6,1048.1 1639.1,1052.1 1639.5,1060.0C1640.1,1071.7 1640.5,1088.1 1641.0,1103.7C1641.6,1121.7 1642.2,1143.9 1643.0,1161.9C1643.7,1177.5 1644.5,1191.8 1645.4,1205.5C1646.2,1217.8 1647.3,1229.3 1648.3,1240.4C1649.2,1250.5 1650.2,1260.3 1651.2,1269.5C1652.1,1277.7 1653.1,1285.6 1654.1,1292.8C1655.0,1299.1 1655.9,1305.3 1657.0,1310.3C1657.9,1314.2 1658.4,1318.7 1659.9,1320.5C1660.7,1321.5 1662.0,1322.3 1662.8,1322.0C1664.0,1321.6 1664.7,1318.1 1665.7,1316.1C1666.7,1314.2 1667.2,1311.5 1668.6,1310.3C1669.8,1309.3 1671.8,1310.0 1673.0,1308.8C1674.7,1307.1 1675.5,1303.7 1676.4,1299.4C1678.1,1290.7 1677.6,1274.4 1678.1,1258.6C1678.8,1236.7 1679.2,1207.9 1679.6,1180.0C1680.1,1148.3 1680.5,1107.4 1680.8,1078.2C1681.0,1056.1 1681.3,1042.6 1681.4,1020.0C1681.6,988.5 1681.5,943.2 1681.6,907.1C1681.7,873.8 1681.7,836.4 1682.2,811.0C1682.6,794.4 1683.1,769.7 1683.7,769.7C1684.1,769.7 1684.7,780.0 1685.1,787.8C1685.8,802.1 1685.7,829.0 1686.0,848.9C1686.3,867.8 1686.6,886.3 1686.9,904.2C1687.2,921.1 1687.4,953.6 1688.0,953.6C1688.5,953.6 1688.0,929.1 1689.8,927.5C1690.2,927.1 1690.8,927.1 1691.2,927.5C1692.8,929.0 1692.3,941.6 1692.7,950.7C1693.2,963.5 1692.7,983.1 1693.3,997.3C1693.8,1009.2 1694.8,1019.0 1695.5,1030.0C1696.2,1041.1 1697.0,1052.9 1697.6,1063.7C1698.2,1073.8 1698.6,1082.1 1699.1,1092.8C1699.7,1105.9 1700.0,1121.9 1700.6,1136.4C1701.2,1151.0 1701.8,1167.0 1702.6,1180.1C1703.3,1190.8 1704.1,1199.5 1704.9,1209.2C1705.7,1218.9 1706.5,1229.5 1707.3,1238.3C1708.0,1245.7 1708.4,1252.1 1709.3,1258.6C1710.1,1264.7 1711.3,1269.8 1712.2,1276.1C1713.2,1283.3 1714.1,1291.9 1715.1,1299.4C1716.0,1306.4 1716.5,1315.1 1718.0,1319.8C1718.8,1322.4 1719.7,1324.4 1720.9,1325.6C1721.7,1326.4 1723.0,1327.4 1723.8,1327.0C1725.3,1326.3 1725.5,1319.9 1726.8,1316.9C1728.0,1314.2 1729.7,1312.0 1731.1,1309.6C1732.6,1307.2 1734.4,1305.1 1735.5,1302.3C1736.7,1299.0 1737.0,1295.7 1737.5,1290.7C1738.4,1281.7 1738.1,1268.5 1738.4,1252.8C1738.8,1227.1 1739.1,1182.1 1739.3,1151.0C1739.5,1124.7 1739.6,1101.1 1739.8,1078.2C1739.9,1057.7 1740.1,1044.0 1740.2,1020.0C1740.4,981.0 1740.4,908.1 1740.7,866.3C1740.9,837.6 1740.8,810.4 1741.6,793.6C1742.0,784.7 1742.8,773.2 1743.3,773.2C1744.0,773.2 1744.4,797.2 1744.8,811.0C1745.3,827.7 1745.4,847.9 1745.7,866.3C1746.0,884.7 1745.9,907.1 1746.5,921.6C1746.9,931.0 1747.5,944.9 1748.0,944.9C1748.5,944.9 1747.8,920.3 1749.5,918.7C1749.9,918.3 1750.5,918.3 1750.9,918.7C1752.8,920.5 1751.9,940.3 1752.4,950.7C1752.9,960.6 1753.3,969.7 1753.8,979.8C1754.4,990.9 1755.2,1008.3 1755.9,1014.8C1756.2,1017.3 1756.5,1017.4 1756.7,1020.0C1757.4,1027.5 1757.7,1048.1 1758.2,1063.7C1758.8,1081.7 1759.4,1103.9 1760.2,1121.9C1760.9,1137.5 1761.8,1151.0 1762.5,1165.5C1763.2,1180.1 1763.8,1196.1 1764.6,1209.2C1765.2,1219.9 1765.8,1229.5 1766.6,1238.3C1767.3,1245.7 1768.2,1252.1 1769.0,1258.6C1769.8,1264.7 1770.6,1270.0 1771.3,1276.1C1772.0,1282.6 1772.5,1289.5 1773.3,1296.5C1774.1,1304.0 1775.0,1313.7 1776.2,1319.8C1777.0,1323.9 1777.4,1328.2 1779.1,1330.0C1780.2,1331.2 1782.4,1332.0 1783.5,1331.4C1785.1,1330.6 1785.2,1325.6 1786.4,1322.7C1787.6,1319.7 1789.5,1317.1 1790.8,1313.9C1792.3,1310.3 1793.4,1306.4 1794.6,1302.3C1795.9,1297.8 1796.9,1292.9 1798.1,1287.8C1799.5,1282.2 1801.0,1275.1 1802.4,1270.3C1803.4,1266.9 1804.6,1265.6 1805.3,1261.6C1806.7,1253.5 1806.0,1238.4 1806.2,1223.7C1806.5,1203.4 1806.6,1175.2 1806.8,1151.0C1807.1,1126.7 1807.5,1101.1 1807.7,1078.2C1807.9,1057.7 1808.0,1043.8 1808.2,1020.0C1808.4,982.0 1808.5,912.7 1808.8,872.1C1809.0,843.6 1809.3,823.6 1809.7,799.4C1810.1,775.1 1810.6,726.6 1811.2,726.6C1811.6,726.6 1812.2,749.5 1812.6,761.6C1813.0,774.7 1813.2,787.1 1813.5,802.3C1813.8,821.8 1814.0,848.0 1814.4,869.2C1814.7,888.5 1814.8,924.5 1815.5,924.5C1815.9,924.5 1816.1,910.4 1817.0,907.1C1817.4,905.7 1818.0,904.1 1818.4,904.2C1819.5,904.4 1819.4,919.7 1819.9,927.5C1820.4,935.2 1820.8,943.0 1821.3,950.7C1821.8,958.5 1822.3,966.2 1822.8,974.0C1823.3,981.8 1823.7,989.6 1824.2,997.3C1824.7,1004.9 1825.3,1011.2 1825.7,1020.0C1826.3,1032.2 1826.7,1048.1 1827.2,1063.7C1827.7,1081.7 1828.0,1103.9 1828.6,1121.9C1829.2,1137.5 1829.9,1152.4 1830.7,1165.5C1831.4,1176.2 1832.1,1184.9 1833.0,1194.6C1833.9,1204.3 1834.9,1214.0 1835.9,1223.7C1836.9,1233.4 1837.8,1243.6 1838.8,1252.8C1839.7,1261.0 1840.7,1268.3 1841.7,1276.1C1842.7,1283.9 1843.4,1292.2 1844.6,1299.4C1845.6,1305.7 1846.4,1313.6 1848.1,1316.9C1848.9,1318.5 1850.0,1319.9 1851.0,1319.8C1852.3,1319.7 1853.5,1316.1 1854.8,1313.9C1856.3,1311.3 1857.8,1308.4 1859.2,1305.2C1860.7,1301.7 1862.1,1297.7 1863.5,1293.6C1865.0,1289.0 1866.6,1283.6 1867.9,1279.0C1869.0,1274.9 1870.1,1272.6 1870.8,1267.4C1872.2,1257.5 1871.9,1240.8 1872.3,1223.7C1872.8,1199.6 1872.8,1167.6 1873.1,1136.4C1873.5,1100.4 1873.7,1042.7 1874.3,1020.0C1874.6,1010.6 1875.0,1008.4 1875.2,1000.0C1875.6,985.7 1875.6,966.5 1875.8,942.0C1876.1,899.4 1875.8,801.7 1876.6,767.4C1876.9,753.0 1877.4,736.8 1877.8,736.8C1878.2,736.8 1878.7,755.2 1879.0,767.4C1879.4,785.4 1879.1,812.8 1879.5,834.3C1879.8,854.4 1880.5,873.9 1881.0,892.5C1881.5,909.7 1881.8,942.0 1882.5,942.0C1882.9,942.0 1883.2,927.6 1883.9,927.5C1884.3,927.5 1885.0,930.8 1885.4,933.3C1886.1,937.5 1886.4,944.3 1886.8,950.7C1887.3,958.5 1887.8,968.7 1888.3,976.9C1888.8,984.1 1889.1,990.3 1889.7,997.3C1890.3,1004.7 1891.3,1011.2 1891.8,1020.0C1892.6,1032.2 1892.7,1048.1 1893.2,1063.7C1893.7,1081.7 1894.1,1103.9 1894.7,1121.9C1895.2,1137.5 1895.7,1151.8 1896.4,1165.5C1897.0,1177.8 1897.8,1189.3 1898.5,1200.4C1899.2,1210.5 1899.7,1220.3 1900.5,1229.5C1901.2,1237.7 1902.0,1245.3 1902.8,1252.8C1903.6,1259.8 1904.4,1266.7 1905.2,1273.2C1905.9,1279.3 1906.3,1283.9 1907.2,1290.7C1908.5,1300.4 1910.0,1318.5 1912.9,1325.6C1914.4,1329.2 1916.6,1333.0 1918.1,1332.9C1919.5,1332.8 1920.6,1328.4 1921.6,1325.6C1922.8,1322.2 1923.6,1317.9 1924.6,1314.0C1925.6,1310.1 1926.3,1305.5 1927.5,1302.3C1928.4,1300.0 1929.2,1298.4 1930.4,1296.5C1931.6,1294.5 1933.5,1294.1 1934.7,1290.7C1938.9,1278.7 1936.9,1231.8 1937.6,1200.4C1938.4,1166.1 1938.7,1125.2 1939.1,1092.8C1939.5,1066.2 1939.8,1046.1 1940.0,1020.0C1940.3,989.7 1940.4,957.6 1940.6,921.6C1940.9,877.8 1940.7,815.6 1941.4,776.1C1941.9,749.0 1942.8,707.7 1943.5,707.7C1944.0,707.7 1944.6,727.6 1944.9,738.3C1945.3,750.2 1945.3,762.5 1945.5,776.1C1945.8,792.1 1946.1,812.1 1946.4,828.5C1946.7,842.9 1947.0,856.8 1947.3,869.2C1947.6,879.7 1947.8,898.3 1948.1,898.3C1948.4,898.3 1948.2,869.4 1949.3,863.4C1949.7,861.2 1950.3,859.0 1950.7,859.1C1951.7,859.2 1951.7,877.6 1952.2,886.7C1952.7,895.5 1953.2,903.9 1953.7,912.9C1954.2,922.3 1954.6,932.3 1955.1,942.0C1955.6,951.7 1956.1,961.4 1956.6,971.1C1957.1,980.8 1957.6,991.4 1958.0,1000.2C1958.3,1007.4 1958.6,1011.7 1958.9,1020.0C1959.4,1034.3 1959.6,1058.8 1960.1,1078.2C1960.6,1097.6 1961.1,1118.4 1961.8,1136.4C1962.4,1152.0 1963.1,1165.5 1963.8,1180.1C1964.5,1194.6 1965.1,1210.6 1965.9,1223.7C1966.6,1234.4 1967.3,1243.1 1968.2,1252.8C1969.1,1262.5 1970.1,1272.2 1971.1,1281.9C1972.1,1291.6 1973.0,1301.3 1974.0,1311.0C1975.0,1320.7 1975.7,1332.1 1976.9,1340.1C1977.8,1345.8 1978.1,1351.8 1979.8,1354.7C1980.7,1356.3 1982.3,1357.9 1983.3,1357.6C1985.0,1357.1 1985.8,1350.1 1987.1,1346.0C1988.5,1341.4 1990.1,1336.5 1991.5,1331.4C1993.0,1325.9 1994.5,1320.2 1995.9,1314.0C1997.5,1306.8 1998.9,1297.6 2000.2,1290.7C2001.2,1285.3 2002.4,1281.2 2003.1,1276.1C2003.9,1270.6 2004.2,1266.3 2004.6,1258.6C2005.4,1244.0 2005.6,1217.6 2006.0,1194.6C2006.5,1167.8 2007.1,1136.4 2007.5,1107.3C2007.9,1078.2 2008.1,1042.4 2008.4,1020.0C2008.6,1005.9 2008.8,1001.2 2009.0,985.7C2009.4,953.2 2009.5,877.0 2009.8,834.3C2010.1,803.0 2010.0,770.5 2010.7,752.8C2011.0,744.3 2011.5,733.9 2011.9,733.9C2012.4,733.9 2012.9,754.7 2013.3,767.4C2013.8,784.1 2013.9,805.5 2014.2,825.6C2014.5,847.1 2014.7,873.8 2015.1,892.5C2015.4,906.0 2015.6,918.7 2016.2,927.5C2016.6,932.9 2016.7,937.5 2017.7,940.6C2018.3,942.5 2019.4,942.9 2020.0,944.9C2021.2,948.7 2021.2,957.2 2022.0,962.4C2022.6,966.7 2023.6,969.4 2024.1,974.0C2024.9,980.4 2025.1,989.6 2025.5,997.3C2025.9,1004.9 2026.1,1011.2 2026.4,1020.0C2026.9,1032.2 2027.4,1048.1 2027.9,1063.7C2028.4,1081.7 2028.7,1102.5 2029.3,1121.9C2029.9,1141.3 2030.8,1164.0 2031.7,1180.1C2032.3,1191.5 2032.9,1199.5 2033.7,1209.2C2034.5,1218.9 2035.6,1229.1 2036.6,1238.3C2037.5,1246.5 2038.6,1253.6 2039.5,1261.6C2040.5,1270.1 2041.5,1278.8 2042.4,1287.8C2043.4,1297.2 2043.6,1309.5 2045.3,1316.9C2046.4,1321.7 2047.9,1328.1 2049.7,1328.5C2051.0,1328.8 2052.8,1326.0 2054.1,1324.1C2055.8,1321.5 2057.1,1317.7 2058.4,1314.0C2060.0,1309.6 2061.2,1304.0 2062.8,1299.4C2064.2,1295.3 2065.8,1291.7 2067.2,1287.8C2068.5,1283.9 2070.0,1281.5 2070.9,1276.1C2072.8,1265.0 2072.0,1244.0 2072.4,1223.7C2073.0,1195.4 2073.3,1155.8 2073.6,1121.9C2073.9,1087.9 2074.1,1050.0 2074.4,1020.0C2074.6,996.4 2074.8,981.3 2075.0,956.6C2075.3,921.9 2075.6,871.8 2075.9,831.4C2076.2,793.4 2076.2,744.0 2076.8,720.8C2077.1,710.1 2077.5,697.5 2077.9,697.5C2078.4,697.5 2079.0,716.9 2079.4,729.5C2079.9,747.7 2079.8,774.2 2080.0,796.5C2080.2,818.8 2080.4,842.8 2080.8,863.4C2081.2,881.1 2081.7,912.9 2082.3,912.9C2082.7,912.9 2082.5,891.0 2083.7,886.7C2084.1,885.2 2084.8,883.7 2085.2,883.8C2086.4,884.1 2086.2,902.8 2086.7,912.9C2087.2,924.0 2087.6,937.0 2088.1,947.8C2088.6,957.2 2089.1,965.5 2089.6,974.0C2090.1,982.0 2090.5,989.6 2091.0,997.3C2091.5,1004.9 2092.3,1011.2 2092.8,1020.0C2093.4,1032.2 2093.5,1048.1 2093.9,1063.7C2094.4,1081.7 2095.1,1102.5 2095.7,1121.9C2096.3,1141.3 2097.0,1162.1 2097.7,1180.1C2098.3,1195.7 2098.8,1210.6 2099.8,1223.7C2100.6,1234.4 2101.7,1243.1 2102.7,1252.8C2103.7,1262.5 2104.6,1272.2 2105.6,1281.9C2106.6,1291.6 2107.3,1301.6 2108.5,1311.0C2109.6,1320.0 2110.5,1330.6 2112.3,1337.2C2113.5,1341.5 2115.2,1347.5 2116.6,1347.4C2118.1,1347.3 2119.6,1339.0 2121.0,1334.3C2122.6,1328.9 2124.0,1322.7 2125.4,1316.9C2126.9,1311.1 2128.3,1305.2 2129.7,1299.4C2131.2,1293.6 2132.7,1288.0 2134.1,1281.9C2135.6,1275.4 2137.3,1267.0 2138.5,1261.6C2139.3,1258.1 2140.0,1257.1 2140.5,1252.8C2141.8,1242.0 2141.3,1216.0 2141.7,1194.6C2142.1,1168.4 2142.5,1136.4 2142.8,1107.3C2143.1,1078.2 2143.2,1050.6 2143.4,1020.0C2143.6,986.1 2143.8,949.8 2144.0,912.9C2144.3,873.5 2144.5,827.9 2144.9,790.7C2145.3,759.5 2145.7,704.8 2146.3,704.8C2146.7,704.8 2147.4,732.6 2147.8,747.0C2148.2,762.1 2148.4,775.0 2148.7,793.6C2149.1,821.5 2148.9,871.5 2149.5,898.3C2149.9,915.0 2150.3,939.1 2151.0,939.1C2151.4,939.1 2151.1,925.7 2152.4,924.5C2152.8,924.1 2153.5,924.1 2153.9,924.5C2155.3,925.8 2154.8,935.4 2155.3,942.0C2155.9,950.5 2156.8,961.4 2157.4,971.1C2158.0,980.8 2158.4,991.4 2158.8,1000.2C2159.1,1007.4 2159.3,1013.4 2159.7,1020.0C2160.1,1026.7 2160.6,1031.9 2161.0,1040.0C2161.6,1052.7 2161.8,1073.8 2162.2,1088.9C2162.6,1102.0 2162.9,1113.4 2163.4,1125.6C2163.9,1137.8 2164.7,1150.0 2165.2,1162.2C2165.7,1174.4 2166.1,1187.1 2166.6,1198.9C2167.1,1209.9 2167.5,1220.8 2168.3,1230.7C2169.0,1239.4 2169.9,1247.8 2170.8,1255.2C2171.6,1261.4 2172.3,1267.1 2173.2,1272.3C2174.0,1276.7 2174.9,1280.2 2175.7,1284.5C2176.6,1289.2 2177.1,1295.2 2178.1,1299.2C2178.8,1302.1 2179.7,1304.3 2180.6,1306.5C2181.4,1308.3 2182.1,1311.2 2183.0,1311.4C2183.7,1311.5 2184.7,1310.2 2185.5,1308.9C2187.0,1306.2 2187.7,1298.6 2189.1,1294.3C2190.2,1290.7 2191.7,1288.1 2192.8,1284.5C2194.2,1280.1 2195.3,1274.7 2196.5,1269.8C2197.7,1264.9 2199.0,1260.4 2200.1,1255.2C2201.3,1249.2 2201.8,1239.9 2203.3,1235.6C2204.1,1233.3 2205.3,1232.5 2206.2,1230.7C2207.2,1228.6 2208.1,1226.6 2208.7,1223.4C2209.8,1217.7 2209.4,1208.9 2209.7,1198.9C2210.1,1183.1 2210.2,1160.6 2210.4,1137.8C2210.7,1109.0 2210.9,1068.4 2211.1,1040.0C2211.3,1018.2 2211.5,1006.2 2211.7,982.0C2212.0,941.4 2212.0,863.5 2212.3,819.0C2212.5,788.1 2212.6,761.1 2213.2,740.4C2213.6,726.9 2212.8,711.3 2214.6,707.0C2215.1,705.8 2216.2,705.3 2216.5,705.0"/>
<path stroke="#ff0000" d="M238.0,1358.0C238.6,1360.7 240.8,1367.6 241.6,1374.0C242.8,1383.4 242.5,1396.1 243.0,1409.0C243.6,1424.8 244.3,1444.1 245.0,1461.6C245.6,1479.1 246.4,1498.3 246.9,1514.0C247.3,1526.8 247.5,1549.0 248.0,1549.0C248.5,1549.0 249.1,1531.3 249.8,1520.0C250.8,1503.9 251.8,1478.9 253.3,1461.6C254.5,1447.6 256.1,1433.5 257.6,1423.8C258.6,1417.7 259.8,1414.8 260.6,1409.0C261.7,1401.0 261.9,1389.7 262.6,1380.0C263.3,1370.3 264.4,1362.3 265.0,1351.0C265.9,1335.0 266.0,1314.2 266.4,1292.8C266.8,1266.6 267.1,1233.3 267.3,1205.5C267.5,1180.2 267.6,1157.0 267.8,1132.8C268.0,1108.5 268.3,1090.8 268.4,1060.0C268.7,1006.3 268.0,894.1 268.7,839.0C269.1,806.0 269.9,780.7 270.5,760.0C270.9,746.6 271.2,727.0 271.6,727.0C272.2,727.0 273.1,762.7 273.7,781.0C274.3,800.0 274.1,825.2 275.0,839.0C275.5,846.7 276.4,849.9 277.0,857.0C277.9,867.3 278.5,884.1 279.5,894.7C280.2,902.5 279.7,912.2 281.8,915.0C282.7,916.2 284.3,915.1 285.3,916.5C288.6,921.2 287.2,946.5 288.0,961.6C288.8,977.0 289.3,992.1 290.0,1008.0C290.8,1024.8 291.9,1044.4 292.6,1060.0C293.2,1072.8 293.2,1082.2 294.0,1095.0C295.0,1110.6 297.1,1130.4 298.4,1147.0C299.5,1162.3 300.2,1177.5 301.3,1191.0C302.2,1202.5 303.2,1213.2 304.2,1223.0C305.1,1231.3 306.0,1238.8 307.0,1246.0C307.9,1252.3 308.9,1258.3 310.0,1263.7C310.9,1268.4 311.3,1273.8 313.0,1276.8C314.1,1278.8 316.1,1279.4 317.3,1281.0C318.5,1282.7 319.3,1285.0 320.2,1287.0C321.0,1288.9 321.6,1292.6 322.5,1292.8C323.1,1293.0 324.0,1292.1 324.6,1291.0C325.9,1288.4 325.6,1282.6 326.0,1275.0C326.9,1256.1 326.8,1210.3 327.0,1176.0C327.3,1138.9 327.2,1097.9 327.5,1060.0C327.7,1023.6 328.0,988.7 328.5,953.0C329.0,917.1 329.9,877.1 330.4,845.0C330.8,819.1 331.0,792.7 331.3,775.0C331.5,764.2 331.6,749.0 331.9,749.0C332.2,749.0 332.8,779.2 333.3,793.0C333.8,805.3 334.2,816.9 334.8,828.0C335.4,838.1 336.1,846.7 336.8,857.0C337.5,868.7 338.2,881.7 339.0,894.7C339.9,908.6 341.0,923.5 342.0,938.0C343.0,952.6 344.2,965.2 345.0,982.0C346.1,1004.3 346.5,1035.9 347.3,1060.0C348.0,1080.8 348.5,1097.6 349.3,1118.0C350.2,1140.9 351.2,1168.1 352.2,1191.0C353.1,1211.4 353.9,1231.7 355.0,1249.0C355.9,1263.0 356.9,1273.5 358.0,1287.0C359.3,1302.4 361.2,1320.5 362.4,1336.5C363.6,1351.5 364.4,1367.5 365.3,1380.0C366.0,1389.5 366.0,1404.7 367.4,1405.0C368.0,1405.1 369.1,1402.6 369.7,1400.5C371.0,1396.2 371.4,1388.1 372.0,1380.0C372.8,1368.2 372.9,1354.0 373.2,1336.5C373.7,1309.7 373.7,1269.7 374.0,1234.6C374.3,1197.0 374.7,1150.1 375.0,1118.0C375.2,1095.3 375.2,1082.1 375.5,1060.0C375.8,1030.3 376.1,981.0 377.0,955.8C377.5,941.4 378.3,922.0 379.0,922.0C379.7,922.0 380.1,949.3 381.3,958.7C382.0,964.6 383.2,966.8 384.0,973.0C385.4,984.1 385.7,1005.0 387.0,1020.0C388.2,1033.9 390.5,1046.4 391.5,1060.0C392.5,1074.2 392.3,1088.1 393.0,1103.7C393.8,1121.7 395.2,1141.5 396.0,1162.0C396.9,1184.9 397.5,1211.2 398.2,1234.6C398.9,1256.6 399.6,1277.0 400.3,1298.6C401.0,1320.7 401.5,1345.7 402.3,1365.6C403.0,1381.6 401.5,1406.0 404.6,1409.0C405.4,1409.8 406.6,1409.6 407.5,1409.0C409.3,1407.8 410.3,1400.7 412.0,1397.6C413.3,1395.2 415.2,1394.6 416.3,1391.8C418.4,1386.4 417.9,1375.4 418.6,1365.6C419.4,1352.9 420.1,1337.6 420.6,1322.0C421.2,1304.0 421.5,1283.1 422.0,1263.7C422.5,1244.3 423.0,1224.9 423.5,1205.5C424.0,1186.0 424.5,1168.4 425.0,1147.0C425.6,1120.9 426.1,1093.5 426.5,1060.0C427.0,1014.2 426.8,942.5 427.3,897.6C427.7,865.8 428.1,835.1 428.8,816.0C429.2,805.6 429.8,792.0 430.2,792.0C430.7,792.0 430.2,821.6 431.7,827.7C432.2,829.9 433.1,829.8 433.7,832.0C435.2,837.5 435.8,851.6 436.6,862.7C437.6,875.9 438.2,892.7 439.0,906.0C439.7,917.5 440.3,925.3 441.0,938.0C442.0,956.8 443.2,986.4 444.0,1008.0C444.6,1026.6 445.0,1041.2 445.4,1060.0C445.9,1082.2 446.1,1107.4 446.8,1132.8C447.5,1160.6 448.6,1193.9 449.7,1220.0C450.6,1241.3 451.6,1260.0 452.6,1278.0C453.5,1293.7 454.5,1307.9 455.5,1322.0C456.5,1335.1 457.2,1349.7 458.5,1359.8C459.4,1366.7 460.7,1371.2 461.4,1377.0C462.1,1382.8 462.4,1387.8 462.8,1394.7C463.4,1404.4 462.9,1423.6 464.3,1429.6C464.8,1431.8 465.7,1434.1 466.3,1434.0C467.3,1433.9 467.8,1425.5 468.6,1421.0C469.5,1416.2 469.7,1407.5 471.6,1406.0C472.4,1405.3 473.7,1405.3 474.5,1406.0C476.7,1408.0 475.7,1429.5 476.8,1429.6C477.4,1429.7 478.3,1426.4 478.8,1423.8C479.8,1418.7 479.3,1407.3 480.2,1400.5C480.9,1395.1 482.4,1391.9 483.1,1386.0C484.2,1376.9 483.9,1362.1 484.6,1351.0C485.2,1340.9 486.3,1331.7 486.9,1322.0C487.5,1312.3 487.9,1302.5 488.3,1292.8C488.7,1283.1 489.2,1276.0 489.5,1263.7C490.0,1242.4 490.1,1207.6 490.4,1176.4C490.7,1140.4 491.0,1102.5 491.2,1060.0C491.5,1008.4 491.3,937.8 491.8,888.9C492.2,852.3 492.7,820.4 493.3,792.8C493.7,771.8 493.7,744.9 494.7,737.5C495.0,735.6 495.3,734.0 495.6,734.0C496.4,734.1 496.5,754.4 497.0,763.7C497.4,771.9 496.4,783.0 498.2,787.0C499.0,788.7 500.6,788.2 501.4,790.0C503.7,794.9 502.9,810.2 503.5,822.0C504.2,836.7 504.5,855.2 505.0,871.4C505.5,887.2 505.9,901.2 506.4,918.0C507.0,937.6 507.7,959.6 508.4,982.0C509.2,1006.7 509.9,1035.9 510.7,1060.0C511.4,1080.8 512.3,1098.6 513.0,1118.0C513.7,1137.4 514.0,1159.1 515.0,1176.4C515.8,1190.3 516.8,1203.4 518.0,1214.0C518.9,1221.9 519.8,1227.5 521.0,1234.6C522.2,1242.2 523.3,1252.2 525.3,1258.0C526.6,1261.7 528.5,1263.3 529.7,1266.6C531.1,1270.7 530.8,1276.8 532.6,1281.0C534.3,1284.9 537.7,1291.5 539.8,1291.4C541.5,1291.3 542.8,1286.8 544.2,1284.0C545.8,1280.6 547.1,1275.4 548.6,1272.5C549.6,1270.6 550.5,1269.5 551.5,1268.0C552.5,1266.5 553.6,1266.2 554.4,1263.7C557.3,1254.4 555.0,1218.8 555.3,1191.0C555.7,1153.7 556.3,1103.6 556.7,1060.0C557.1,1016.5 557.6,973.1 557.9,929.6C558.3,886.0 558.5,839.2 558.8,798.6C559.1,763.3 559.0,723.0 559.6,699.7C560.0,686.9 560.6,670.0 561.0,670.0C561.6,670.0 562.0,706.5 562.5,723.0C562.9,737.5 563.2,749.5 563.7,763.7C564.3,779.3 565.2,797.6 566.0,813.0C566.7,826.5 567.7,837.9 568.4,851.0C569.2,865.1 569.6,879.5 570.4,894.7C571.2,911.4 572.4,928.7 573.3,947.0C574.3,967.3 575.4,991.1 576.2,1011.0C576.9,1028.4 577.2,1043.0 577.7,1060.0C578.2,1078.5 578.4,1097.6 579.0,1118.0C579.7,1140.9 581.0,1165.6 582.0,1191.0C583.0,1218.7 583.7,1254.9 585.0,1278.0C585.8,1293.3 586.9,1304.2 587.9,1316.0C588.8,1326.3 589.7,1336.2 590.8,1345.0C591.7,1352.5 592.2,1359.8 593.7,1365.6C594.8,1370.0 596.3,1373.9 598.0,1377.0C599.3,1379.4 601.3,1380.1 602.4,1383.0C604.4,1388.5 603.9,1400.1 604.5,1409.0C605.2,1418.5 605.0,1438.1 606.2,1438.3C606.7,1438.4 607.6,1435.1 608.2,1432.5C609.3,1427.3 609.6,1416.8 610.3,1409.0C611.0,1401.3 612.0,1394.5 612.6,1386.0C613.3,1375.6 613.6,1367.1 614.0,1351.0C614.9,1315.0 615.1,1228.7 615.5,1176.4C615.8,1133.7 616.1,1104.4 616.4,1060.0C616.8,1000.5 616.8,904.6 617.3,851.0C617.6,817.6 617.8,791.3 618.4,769.5C618.8,754.9 619.4,733.0 619.9,733.0C620.4,733.0 620.8,757.3 621.3,769.5C621.8,781.9 621.4,798.8 622.8,807.0C623.5,811.1 624.9,811.9 625.7,816.0C627.2,824.2 627.3,841.1 628.0,854.0C628.7,867.3 629.2,880.9 630.0,894.7C630.8,908.9 632.1,921.7 633.0,938.0C634.2,959.2 635.3,989.1 635.9,1011.0C636.4,1029.0 636.4,1043.0 636.8,1060.0C637.3,1078.5 638.0,1097.6 638.8,1118.0C639.7,1140.9 640.7,1168.1 641.7,1191.0C642.6,1211.4 643.6,1230.4 644.6,1249.0C645.5,1266.2 646.5,1283.2 647.5,1298.6C648.4,1312.1 649.1,1324.7 650.4,1336.5C651.6,1346.9 652.4,1358.5 654.8,1365.6C656.3,1370.1 658.9,1375.9 660.6,1375.8C662.3,1375.7 663.9,1370.0 665.0,1365.6C666.8,1358.5 666.7,1347.2 667.3,1336.5C668.0,1323.4 668.2,1310.9 668.5,1292.8C669.0,1263.3 669.1,1215.2 669.4,1176.4C669.6,1137.6 669.8,1101.1 670.0,1060.0C670.2,1013.6 670.5,955.2 670.8,912.0C671.1,878.3 671.1,844.4 671.7,822.0C672.1,808.6 672.6,790.0 673.1,790.0C673.6,790.0 674.1,806.7 674.6,816.0C675.1,826.8 675.5,841.3 676.0,851.0C676.4,857.8 676.7,862.1 677.2,868.5C677.8,876.4 678.8,884.9 679.5,894.7C680.4,907.3 681.0,923.5 681.9,938.0C682.8,952.6 684.0,967.4 684.8,982.0C685.6,996.6 686.2,1011.9 686.8,1025.6C687.3,1037.7 687.9,1047.0 688.3,1060.0C688.9,1076.8 689.0,1097.6 689.7,1118.0C690.4,1140.9 691.6,1168.1 692.6,1191.0C693.5,1211.4 694.3,1229.6 695.5,1249.0C696.7,1268.4 698.3,1290.1 700.0,1307.4C701.3,1321.3 702.7,1334.0 704.3,1345.0C705.6,1353.8 707.0,1363.0 708.6,1368.5C709.5,1371.7 710.4,1375.7 711.6,1375.8C712.8,1375.9 714.7,1371.5 716.0,1368.5C717.7,1364.6 718.5,1358.5 720.0,1354.0C721.4,1349.9 722.9,1345.9 724.5,1342.3C725.9,1339.1 727.9,1337.4 728.9,1333.6C730.5,1327.3 729.5,1319.0 729.8,1307.4C730.3,1284.5 730.7,1242.5 731.0,1205.5C731.4,1161.3 731.4,1098.6 731.8,1060.0C732.1,1034.5 732.5,1022.0 732.7,996.5C733.1,957.9 732.9,895.5 733.3,851.0C733.6,813.2 734.1,776.7 734.7,746.3C735.1,722.8 735.5,683.7 736.2,683.7C736.7,683.7 737.7,707.3 738.2,720.0C738.7,733.9 738.6,750.6 739.1,763.7C739.5,774.4 739.5,786.0 740.6,792.8C741.2,796.6 742.3,797.9 742.9,801.6C743.9,808.0 743.9,818.2 744.3,827.7C744.8,839.2 745.3,851.6 745.8,865.6C746.4,882.9 747.1,905.8 747.8,923.8C748.4,939.4 749.3,952.9 749.9,967.4C750.5,981.9 750.9,996.0 751.3,1011.0C751.7,1026.9 752.1,1043.0 752.5,1060.0C752.9,1078.5 753.2,1097.6 753.7,1118.0C754.3,1140.9 755.2,1168.1 756.0,1191.0C756.7,1211.4 757.1,1230.4 758.0,1249.0C758.8,1266.2 759.9,1283.2 760.9,1298.6C761.8,1312.1 762.7,1324.7 763.8,1336.5C764.7,1346.8 765.8,1356.2 766.8,1365.6C767.8,1374.6 768.5,1384.9 769.7,1391.8C770.5,1396.5 771.2,1400.9 772.6,1403.4C773.4,1404.8 774.7,1406.5 775.5,1406.3C776.9,1405.9 777.6,1399.5 778.4,1394.7C779.7,1387.2 780.2,1374.4 781.3,1365.6C782.2,1358.2 782.7,1349.9 784.2,1345.2C785.0,1342.6 786.1,1341.3 787.1,1339.4C788.1,1337.5 789.1,1335.5 790.0,1333.6C790.9,1331.7 791.8,1330.9 792.4,1327.8C794.4,1318.0 793.2,1287.5 793.5,1263.7C793.9,1233.7 794.1,1195.8 794.4,1161.9C794.7,1127.9 795.0,1091.4 795.3,1060.0C795.5,1033.1 795.7,1013.6 795.9,985.0C796.2,946.8 796.3,892.6 796.7,851.0C797.0,814.7 797.3,776.1 797.9,749.2C798.3,731.6 798.8,705.5 799.3,705.5C799.8,705.5 800.6,734.6 801.1,749.2C801.6,763.7 802.1,778.3 802.5,792.8C802.9,807.4 803.2,822.5 803.7,836.5C804.2,849.6 804.9,862.0 805.5,874.3C806.1,886.2 806.6,898.1 807.5,909.2C808.3,919.4 809.6,927.7 810.4,938.4C811.3,951.5 811.7,966.4 812.4,982.0C813.2,1000.0 814.3,1025.7 814.8,1040.0C815.1,1048.4 815.2,1051.6 815.4,1060.0C815.8,1074.3 816.5,1098.6 817.1,1118.0C817.7,1137.4 818.4,1157.0 819.1,1176.4C819.8,1195.8 820.4,1216.6 821.2,1234.6C821.9,1250.2 822.5,1265.2 823.5,1278.3C824.3,1289.0 825.3,1297.7 826.4,1307.4C827.5,1317.1 828.7,1327.3 830.0,1336.5C831.2,1344.7 832.1,1353.1 833.7,1359.8C834.9,1365.1 836.5,1373.6 838.0,1373.7C839.4,1373.8 841.2,1366.5 842.4,1362.7C843.6,1358.9 844.3,1355.6 845.3,1351.0C846.7,1344.6 847.8,1333.6 849.7,1327.8C850.9,1324.1 852.6,1321.9 854.0,1319.0C855.3,1316.1 856.8,1315.0 857.8,1310.3C861.1,1294.8 858.7,1243.3 859.0,1205.5C859.4,1161.0 859.6,1111.1 859.9,1060.0C860.2,1003.2 860.4,933.5 860.8,880.0C861.1,837.0 861.5,802.5 861.9,763.7C862.3,724.9 862.5,673.6 863.4,647.3C863.9,633.8 864.6,616.8 865.1,616.8C865.6,616.8 866.2,636.2 866.6,647.3C867.1,660.6 867.3,677.0 867.7,691.0C868.1,704.1 868.4,716.0 868.9,728.8C869.4,742.1 870.1,756.2 870.7,769.5C871.3,782.4 871.8,794.3 872.4,807.4C873.0,821.4 873.8,835.4 874.4,851.0C875.1,869.0 875.8,889.8 876.5,909.2C877.2,928.6 878.2,948.0 878.8,967.4C879.4,986.8 879.9,1008.7 880.3,1025.6C880.6,1038.6 880.7,1047.0 881.1,1060.0C881.6,1076.8 882.5,1098.6 883.2,1118.0C883.9,1137.4 884.5,1157.0 885.2,1176.4C885.9,1195.8 886.6,1215.2 887.5,1234.6C888.4,1254.0 889.3,1274.8 890.4,1292.8C891.3,1308.4 892.3,1323.1 893.4,1336.5C894.3,1348.0 895.0,1358.4 896.3,1368.5C897.5,1377.7 898.7,1388.4 900.6,1394.7C901.7,1398.5 903.2,1403.5 904.4,1403.4C905.7,1403.3 906.8,1396.2 907.9,1391.8C909.4,1386.0 910.9,1378.4 912.3,1371.4C913.8,1363.9 915.2,1356.1 916.6,1348.1C918.1,1339.7 919.3,1329.4 921.0,1322.0C922.3,1316.4 924.3,1313.7 925.4,1307.4C927.2,1296.8 927.2,1279.3 927.7,1263.7C928.3,1245.7 928.1,1229.3 928.3,1205.5C928.6,1167.9 928.7,1108.9 928.9,1060.0C929.1,1010.2 929.2,957.7 929.4,909.2C929.6,864.0 929.9,819.2 930.3,778.3C930.7,742.2 931.1,700.8 931.8,676.4C932.2,662.7 932.7,644.4 933.2,644.4C933.7,644.4 934.3,663.6 934.7,676.4C935.3,695.7 935.5,726.3 935.9,749.2C936.3,769.7 936.3,791.3 937.0,807.4C937.5,818.8 938.4,826.8 939.0,836.5C939.6,846.2 940.2,855.9 940.8,865.6C941.4,875.3 942.1,885.0 942.8,894.7C943.5,904.4 944.5,913.1 945.2,923.8C946.0,936.9 946.5,952.9 947.2,967.4C947.9,981.9 948.6,996.0 949.2,1011.0C949.9,1026.9 950.6,1042.1 951.0,1060.0C951.5,1081.9 951.1,1106.5 951.6,1132.8C952.2,1163.9 953.4,1207.7 954.4,1234.6C955.0,1252.2 955.4,1265.2 956.4,1278.3C957.2,1289.0 958.2,1298.6 959.3,1307.4C960.2,1314.8 961.1,1320.8 962.2,1327.8C963.3,1335.3 964.4,1344.2 966.0,1351.0C967.3,1356.5 968.7,1362.7 970.4,1365.6C971.3,1367.1 972.4,1368.7 973.3,1368.5C974.6,1368.2 975.7,1363.1 976.8,1359.8C978.2,1355.6 979.3,1350.3 980.6,1345.2C982.0,1339.7 983.6,1333.0 984.9,1327.8C986.0,1323.5 986.8,1319.7 987.8,1316.1C988.7,1313.0 989.9,1310.7 990.7,1307.4C991.7,1303.2 992.3,1299.7 992.8,1292.8C994.1,1275.9 993.4,1238.3 993.7,1205.5C994.1,1163.2 994.5,1110.3 994.8,1060.0C995.1,1006.0 995.4,944.1 995.7,891.8C996.0,846.2 996.4,801.6 996.6,763.7C996.8,733.5 996.5,703.1 997.1,682.2C997.4,669.1 997.3,650.5 998.6,650.2C999.0,650.1 999.6,651.4 1000.0,653.0C1001.6,659.5 1000.6,687.5 1000.9,705.5C1001.2,724.4 1001.5,744.3 1001.8,763.7C1002.2,783.1 1002.5,804.0 1003.0,822.0C1003.5,837.6 1004.0,852.5 1004.7,865.6C1005.3,876.3 1006.0,885.0 1006.8,894.7C1007.6,904.4 1008.9,913.1 1009.7,923.8C1010.6,936.9 1011.0,952.9 1011.7,967.4C1012.4,981.9 1013.4,996.0 1014.0,1011.0C1014.7,1026.9 1015.0,1043.0 1015.5,1060.0C1016.0,1078.5 1016.3,1098.6 1016.9,1118.0C1017.5,1137.4 1018.3,1157.0 1019.0,1176.4C1019.7,1195.8 1020.4,1215.7 1021.3,1234.6C1022.2,1252.5 1023.0,1272.5 1024.2,1287.0C1025.0,1297.2 1025.8,1304.7 1027.1,1313.2C1028.3,1321.2 1030.0,1328.7 1031.5,1336.5C1033.0,1344.3 1034.1,1353.2 1035.9,1359.8C1037.3,1364.9 1039.2,1372.8 1040.8,1372.9C1042.1,1373.0 1043.5,1368.8 1044.6,1365.6C1046.5,1360.1 1047.5,1350.1 1049.0,1342.3C1050.4,1334.5 1051.8,1326.5 1053.3,1319.0C1054.7,1312.0 1056.6,1305.4 1057.7,1298.6C1058.8,1291.9 1059.4,1287.7 1060.0,1278.3C1061.3,1257.4 1060.6,1211.5 1060.9,1176.4C1061.2,1138.9 1061.7,1100.5 1062.0,1060.0C1062.3,1015.7 1062.4,969.7 1062.6,920.9C1062.9,866.7 1063.1,797.3 1063.5,749.2C1063.8,714.3 1063.8,682.4 1064.4,659.0C1064.8,644.2 1065.0,622.6 1065.8,622.6C1066.2,622.6 1066.9,628.2 1067.3,632.8C1068.1,642.3 1067.6,660.8 1067.9,676.4C1068.2,694.4 1068.8,715.2 1069.3,734.6C1069.8,754.0 1070.3,774.8 1070.8,792.8C1071.3,808.4 1071.5,823.4 1072.2,836.5C1072.8,847.2 1073.9,855.9 1074.6,865.6C1075.3,875.3 1076.0,884.6 1076.6,894.7C1077.3,905.8 1078.0,917.7 1078.6,929.6C1079.2,941.9 1079.8,953.4 1080.4,967.4C1081.1,984.7 1081.7,1008.7 1082.4,1025.6C1082.9,1038.6 1083.5,1047.0 1083.9,1060.0C1084.4,1076.8 1084.2,1098.6 1084.7,1118.0C1085.2,1137.4 1086.1,1155.9 1086.8,1176.4C1087.6,1199.3 1088.1,1228.0 1089.1,1249.2C1089.9,1265.6 1091.0,1279.1 1092.0,1292.8C1092.9,1305.1 1093.7,1317.3 1094.9,1327.8C1095.9,1336.3 1097.2,1344.2 1098.4,1351.0C1099.4,1356.4 1100.2,1360.8 1101.3,1365.6C1102.4,1370.5 1103.2,1377.8 1104.8,1380.1C1105.5,1381.1 1106.5,1381.9 1107.2,1381.6C1109.1,1380.8 1110.1,1369.5 1111.5,1362.7C1113.1,1354.7 1114.4,1345.0 1115.9,1336.5C1117.3,1328.5 1118.8,1320.7 1120.3,1313.2C1121.7,1306.2 1123.4,1299.0 1124.6,1292.8C1125.6,1287.6 1126.3,1285.0 1126.9,1278.3C1128.2,1263.4 1127.7,1232.6 1128.1,1205.5C1128.6,1171.2 1128.9,1114.9 1129.3,1089.0C1129.5,1076.1 1129.7,1073.2 1129.9,1060.0C1130.2,1031.3 1130.1,968.8 1130.4,923.8C1130.7,879.7 1131.5,832.7 1131.9,792.8C1132.3,759.1 1132.4,724.9 1132.8,699.7C1133.1,682.4 1133.2,656.0 1133.9,656.0C1134.3,656.0 1135.0,664.0 1135.4,670.6C1136.3,684.4 1136.3,711.6 1136.8,734.6C1137.4,761.5 1137.9,795.8 1138.6,822.0C1139.2,843.3 1139.8,863.2 1140.6,880.1C1141.2,893.2 1140.9,908.3 1142.7,915.0C1143.5,917.9 1144.8,918.0 1145.6,920.9C1147.3,927.2 1147.3,942.5 1147.9,952.9C1148.5,962.8 1149.0,971.3 1149.4,982.0C1149.9,995.1 1150.5,1011.9 1150.8,1025.6C1151.1,1037.7 1151.2,1045.9 1151.4,1060.0C1151.7,1082.4 1151.9,1118.2 1152.3,1147.3C1152.7,1176.4 1153.2,1208.4 1153.7,1234.6C1154.1,1256.0 1154.6,1275.9 1155.2,1292.8C1155.6,1305.9 1155.7,1318.7 1156.6,1327.8C1157.2,1333.7 1157.1,1339.5 1159.0,1342.3C1160.2,1344.0 1162.2,1344.1 1163.9,1345.2C1165.8,1346.5 1167.9,1349.7 1169.7,1349.6C1171.3,1349.5 1173.0,1347.4 1174.1,1345.2C1176.0,1341.5 1175.9,1333.8 1177.0,1327.8C1178.3,1321.3 1180.1,1314.8 1181.4,1307.4C1183.0,1298.6 1184.2,1286.8 1185.7,1278.3C1186.8,1271.7 1187.7,1266.0 1189.2,1260.8C1190.4,1256.5 1192.4,1254.9 1193.5,1249.2C1196.0,1235.5 1194.1,1203.5 1194.4,1176.4C1194.8,1142.1 1195.5,1094.2 1195.8,1060.0C1196.1,1033.1 1196.2,1016.4 1196.4,987.8C1196.7,946.0 1197.0,883.2 1197.3,833.6C1197.6,787.4 1197.7,740.3 1198.1,699.7C1198.4,665.9 1198.5,627.1 1199.3,606.6C1199.7,596.5 1200.3,583.9 1200.8,583.9C1201.3,583.9 1201.8,601.9 1202.2,612.4C1202.7,625.4 1202.8,641.0 1203.1,656.0C1203.4,672.0 1203.7,689.2 1204.0,705.5C1204.3,721.3 1204.7,739.2 1205.1,752.1C1205.4,761.2 1205.6,767.0 1206.0,775.4C1206.4,785.2 1207.0,797.0 1207.5,807.4C1208.0,817.3 1208.4,826.8 1208.9,836.5C1209.4,846.2 1209.9,855.9 1210.4,865.6C1210.9,875.3 1211.3,885.0 1211.8,894.7C1212.3,904.4 1212.8,914.1 1213.3,923.8C1213.8,933.5 1214.3,942.2 1214.7,952.9C1215.2,966.0 1215.8,980.6 1216.2,996.5C1216.7,1015.7 1217.1,1040.8 1217.6,1060.0C1218.0,1075.9 1218.6,1088.1 1219.1,1103.7C1219.6,1121.7 1220.1,1143.9 1220.6,1161.9C1221.1,1177.5 1221.4,1191.0 1222.0,1205.5C1222.6,1220.1 1223.6,1234.6 1224.3,1249.2C1225.0,1263.7 1225.5,1279.1 1226.4,1292.8C1227.2,1305.1 1228.2,1317.3 1229.3,1327.8C1230.2,1336.3 1231.0,1343.0 1232.2,1351.0C1233.4,1359.5 1234.7,1370.6 1236.6,1377.2C1237.8,1381.5 1239.3,1387.3 1240.9,1387.4C1242.3,1387.5 1244.1,1383.1 1245.3,1380.1C1246.8,1376.2 1247.3,1370.9 1248.2,1365.6C1249.3,1359.4 1249.9,1352.2 1251.1,1345.2C1252.3,1337.7 1254.0,1329.5 1255.5,1322.0C1256.9,1315.0 1258.5,1307.8 1259.8,1301.6C1260.9,1296.3 1262.1,1293.4 1262.8,1287.0C1264.2,1275.0 1263.8,1254.3 1264.2,1234.6C1264.7,1209.2 1264.9,1176.4 1265.1,1147.3C1265.3,1118.2 1265.3,1091.5 1265.4,1060.0C1265.5,1022.8 1265.5,982.1 1265.7,938.4C1265.9,887.4 1266.1,819.0 1266.5,772.5C1266.8,738.7 1266.8,707.4 1267.4,685.1C1267.8,671.3 1268.3,651.7 1268.9,651.7C1269.3,651.7 1270.0,661.0 1270.3,667.7C1270.9,678.7 1270.6,696.1 1270.9,711.3C1271.2,728.0 1271.6,747.0 1272.1,763.7C1272.5,778.9 1273.0,792.8 1273.5,807.4C1274.0,821.9 1274.5,837.9 1275.0,851.0C1275.4,861.7 1275.9,870.4 1276.4,880.1C1276.9,889.8 1277.5,900.4 1278.2,909.2C1278.8,916.6 1279.6,922.6 1280.2,929.6C1280.8,937.1 1281.2,944.7 1281.7,952.9C1282.2,962.1 1282.7,971.3 1283.1,982.0C1283.6,995.1 1284.2,1011.9 1284.6,1025.6C1285.0,1037.7 1285.2,1047.8 1285.5,1060.0C1285.9,1073.7 1286.2,1088.1 1286.6,1103.7C1287.1,1121.7 1287.8,1142.5 1288.4,1161.9C1289.0,1181.3 1289.5,1202.0 1290.4,1220.0C1291.2,1235.6 1292.3,1249.7 1293.3,1263.7C1294.2,1276.8 1295.2,1289.8 1296.2,1301.6C1297.1,1311.9 1297.7,1321.9 1299.1,1330.7C1300.3,1338.1 1301.6,1344.9 1303.5,1351.0C1305.1,1356.3 1307.6,1365.7 1309.3,1365.6C1311.0,1365.5 1312.3,1356.3 1313.7,1351.0C1315.3,1344.8 1316.7,1337.5 1318.1,1330.7C1319.6,1323.9 1320.9,1316.8 1322.4,1310.3C1323.8,1304.2 1325.5,1298.0 1326.8,1292.8C1327.9,1288.5 1329.0,1286.1 1329.7,1281.2C1330.9,1273.2 1330.8,1262.0 1331.2,1249.2C1331.8,1229.9 1331.8,1203.5 1332.0,1176.4C1332.3,1142.1 1332.4,1101.3 1332.6,1060.0C1332.8,1013.0 1332.9,957.1 1333.2,909.2C1333.5,865.6 1334.0,822.7 1334.4,784.1C1334.8,750.8 1334.7,712.1 1335.5,691.0C1335.9,680.1 1336.5,666.2 1337.0,666.2C1337.5,666.2 1338.0,681.9 1338.4,691.0C1338.9,702.3 1339.1,715.2 1339.3,728.8C1339.6,744.8 1339.6,764.8 1339.9,781.2C1340.1,795.7 1340.4,809.6 1340.8,822.0C1341.1,832.5 1341.5,841.3 1341.9,851.0C1342.3,860.7 1343.0,870.9 1343.4,880.1C1343.8,888.3 1343.8,895.6 1344.2,903.4C1344.6,911.2 1344.9,926.6 1345.7,926.7C1346.1,926.7 1346.8,920.9 1347.2,920.9C1347.8,920.9 1348.2,927.8 1348.6,932.5C1349.2,939.5 1349.7,949.2 1350.1,958.7C1350.6,970.1 1351.1,982.3 1351.5,996.5C1352.1,1014.9 1352.5,1040.8 1353.0,1060.0C1353.4,1075.9 1353.9,1088.1 1354.4,1103.7C1355.0,1121.7 1355.8,1142.5 1356.5,1161.9C1357.2,1181.3 1357.8,1202.0 1358.8,1220.0C1359.6,1235.6 1360.6,1250.6 1361.7,1263.7C1362.6,1274.4 1363.5,1283.7 1364.6,1292.8C1365.6,1301.0 1366.9,1308.3 1368.1,1316.1C1369.3,1323.9 1370.7,1331.4 1371.9,1339.4C1373.2,1347.9 1374.0,1360.1 1375.7,1365.6C1376.6,1368.3 1377.6,1371.4 1378.6,1371.4C1379.8,1371.4 1381.1,1366.0 1382.1,1362.7C1383.3,1358.5 1383.7,1351.8 1385.0,1348.1C1385.8,1345.7 1386.9,1344.2 1387.9,1342.3C1388.9,1340.4 1390.0,1339.1 1390.8,1336.5C1392.3,1331.8 1392.9,1323.1 1393.7,1316.1C1394.6,1308.6 1395.4,1301.8 1396.0,1292.8C1396.8,1280.5 1396.9,1266.8 1397.2,1249.2C1397.7,1222.3 1397.8,1180.0 1398.1,1147.3C1398.3,1117.1 1398.5,1088.0 1398.7,1060.0C1398.8,1034.1 1398.9,1013.6 1399.0,985.0C1399.1,946.8 1399.2,893.5 1399.5,851.0C1399.7,812.4 1399.6,768.8 1400.4,740.4C1400.9,722.5 1401.7,696.8 1402.5,696.8C1402.9,696.8 1403.5,703.6 1403.9,708.4C1404.5,716.4 1404.6,729.3 1404.8,740.4C1405.1,752.5 1405.2,765.7 1405.4,778.3C1405.6,790.9 1405.4,806.8 1406.2,816.1C1406.7,821.6 1407.7,824.3 1408.3,829.2C1409.0,835.5 1409.2,843.2 1409.7,851.0C1410.3,860.0 1411.2,870.4 1411.8,880.1C1412.4,889.8 1413.0,899.5 1413.5,909.2C1414.0,918.9 1414.3,927.7 1414.7,938.4C1415.1,951.5 1415.4,967.5 1415.8,982.0C1416.2,996.5 1416.5,1011.9 1417.0,1025.6C1417.4,1037.7 1418.0,1047.8 1418.5,1060.0C1419.0,1073.7 1419.5,1087.3 1419.9,1103.7C1420.5,1124.9 1420.6,1153.5 1421.4,1176.4C1422.1,1196.9 1423.3,1216.6 1424.3,1234.6C1425.2,1250.2 1425.2,1270.7 1427.2,1278.3C1428.0,1281.2 1429.3,1281.1 1430.0,1284.0C1431.8,1291.0 1431.0,1308.9 1431.5,1322.0C1432.0,1336.0 1432.4,1351.1 1432.9,1365.6C1433.4,1380.1 1433.8,1395.2 1434.4,1409.2C1435.0,1422.3 1435.5,1436.3 1436.4,1447.0C1437.1,1454.9 1437.6,1463.8 1438.7,1467.5C1439.1,1469.0 1439.8,1470.5 1440.2,1470.4C1441.0,1470.3 1441.2,1463.1 1441.6,1458.7C1442.2,1452.8 1442.6,1445.7 1443.1,1438.3C1443.7,1429.5 1444.4,1418.9 1445.1,1409.2C1445.8,1399.5 1446.6,1389.8 1447.5,1380.1C1448.4,1370.4 1449.4,1360.7 1450.4,1351.0C1451.4,1341.3 1452.3,1331.1 1453.3,1322.0C1454.2,1313.8 1455.2,1305.8 1456.2,1298.6C1457.1,1292.4 1458.1,1287.0 1459.1,1281.2C1460.1,1275.4 1461.3,1270.3 1462.0,1263.7C1462.9,1255.2 1463.1,1246.5 1463.5,1234.6C1464.1,1215.8 1464.1,1188.2 1464.3,1161.9C1464.6,1130.8 1464.6,1087.3 1464.9,1060.0C1465.1,1041.7 1465.3,1033.2 1465.5,1014.0C1465.8,982.0 1466.1,927.1 1466.4,886.0C1466.6,847.8 1466.3,801.9 1467.0,775.4C1467.4,760.5 1467.7,740.5 1468.7,740.4C1469.1,740.4 1469.8,743.5 1470.2,746.3C1471.1,752.7 1471.0,767.9 1471.3,778.3C1471.6,788.2 1471.9,797.5 1472.2,807.4C1472.5,817.8 1472.7,831.4 1473.1,839.4C1473.3,844.2 1473.6,851.0 1473.9,851.0C1474.2,851.0 1474.8,843.3 1475.1,836.5C1475.8,820.8 1475.4,787.7 1475.7,757.9C1476.0,718.6 1476.7,669.3 1477.0,621.1C1477.3,567.2 1477.2,506.1 1477.4,449.9C1477.6,395.3 1477.6,325.8 1478.3,288.6C1478.7,269.0 1479.2,243.6 1479.7,243.6C1480.2,243.6 1480.7,272.8 1481.1,290.7C1481.6,314.2 1481.8,344.7 1482.1,372.4C1482.4,401.2 1482.5,430.9 1482.8,460.4C1483.1,490.2 1483.5,521.9 1483.8,550.4C1484.1,576.2 1484.3,597.0 1484.6,624.0C1485.0,657.1 1485.4,704.5 1485.9,734.6C1486.2,755.3 1486.6,768.7 1487.0,787.0C1487.4,807.3 1487.9,828.0 1488.2,851.0C1488.6,877.9 1488.8,912.2 1489.1,938.4C1489.4,959.7 1489.7,976.7 1490.0,996.5C1490.3,1017.2 1490.8,1040.8 1491.1,1060.0C1491.3,1075.9 1491.5,1087.3 1491.7,1103.7C1492.0,1124.9 1492.2,1153.5 1492.6,1176.4C1493.0,1196.9 1493.4,1215.2 1494.0,1234.6C1494.6,1254.0 1495.6,1274.8 1496.4,1292.8C1497.1,1308.4 1497.8,1321.9 1498.4,1336.5C1499.0,1351.0 1499.3,1365.6 1499.8,1380.1C1500.3,1394.7 1500.7,1409.2 1501.3,1423.8C1501.9,1438.4 1502.4,1455.2 1503.3,1467.5C1504.0,1476.5 1504.7,1483.5 1505.7,1490.7C1506.5,1497.0 1507.2,1503.7 1508.6,1508.2C1509.6,1511.2 1510.7,1515.0 1512.1,1515.5C1513.0,1515.8 1514.3,1515.1 1515.0,1514.0C1516.7,1511.4 1516.0,1504.6 1516.4,1496.5C1517.2,1478.5 1517.0,1440.4 1517.3,1409.2C1517.6,1373.2 1517.9,1331.6 1518.2,1292.8C1518.5,1254.0 1518.8,1215.2 1519.1,1176.4C1519.4,1137.6 1519.9,1090.5 1520.2,1060.0C1520.4,1040.2 1520.6,1028.4 1520.8,1011.0C1521.1,991.1 1521.2,964.3 1521.7,947.1C1522.1,935.5 1522.6,918.0 1523.1,918.0C1523.6,918.0 1524.1,940.6 1524.6,952.9C1525.1,966.6 1525.1,985.2 1526.0,996.5C1526.6,1003.7 1527.7,1007.6 1528.4,1014.0C1529.2,1021.8 1529.8,1032.1 1530.4,1040.2C1530.9,1047.3 1531.5,1052.8 1531.9,1060.0C1532.4,1068.8 1532.8,1078.4 1533.3,1089.1C1533.9,1102.2 1534.7,1117.2 1535.4,1132.8C1536.2,1150.8 1536.9,1171.6 1537.7,1191.0C1538.5,1210.4 1539.2,1231.2 1540.0,1249.2C1540.7,1264.8 1541.4,1278.3 1542.1,1292.8C1542.8,1307.4 1543.3,1323.4 1544.1,1336.5C1544.8,1347.2 1545.5,1355.9 1546.4,1365.6C1547.3,1375.3 1547.8,1387.9 1549.3,1394.7C1550.1,1398.5 1550.9,1400.9 1552.2,1403.4C1553.4,1405.6 1555.4,1406.9 1556.6,1409.2C1558.0,1412.0 1558.8,1419.4 1559.5,1419.4C1560.2,1419.4 1560.6,1413.5 1561.0,1409.2C1561.6,1402.0 1561.6,1392.4 1561.8,1380.1C1562.2,1358.8 1562.2,1323.0 1562.4,1292.8C1562.7,1260.2 1562.9,1222.1 1563.3,1191.0C1563.6,1164.6 1564.2,1140.9 1564.5,1118.0C1564.8,1097.6 1565.1,1081.1 1565.3,1060.0C1565.6,1034.6 1565.6,1000.9 1565.9,976.2C1566.1,956.7 1564.3,926.3 1566.8,923.8C1567.2,923.4 1567.8,923.4 1568.2,923.8C1570.0,925.5 1569.1,944.9 1569.7,952.9C1570.1,958.6 1570.6,963.7 1571.2,967.4C1571.6,969.8 1572.2,970.7 1572.6,973.3C1573.4,978.5 1573.6,988.3 1574.1,996.5C1574.6,1005.6 1574.4,1018.1 1575.5,1025.6C1576.2,1030.4 1577.6,1032.7 1578.4,1037.3C1579.5,1043.6 1580.0,1051.2 1580.5,1060.0C1581.3,1072.2 1581.4,1089.1 1581.9,1103.7C1582.4,1118.2 1583.1,1132.8 1583.7,1147.3C1584.3,1161.9 1585.0,1176.4 1585.7,1191.0C1586.4,1205.5 1586.9,1220.9 1587.7,1234.6C1588.4,1246.9 1589.3,1258.1 1590.1,1269.5C1590.9,1280.4 1591.5,1291.4 1592.4,1301.6C1593.2,1310.8 1594.1,1320.0 1595.0,1327.8C1595.7,1334.2 1596.4,1339.7 1597.3,1345.2C1598.2,1350.3 1598.7,1356.5 1600.3,1359.8C1601.3,1361.8 1602.7,1364.1 1604.0,1364.1C1605.3,1364.1 1606.9,1361.8 1608.1,1359.8C1609.8,1357.0 1610.7,1352.6 1611.9,1348.1C1613.5,1342.3 1614.9,1333.4 1616.3,1327.8C1617.3,1323.8 1618.2,1319.5 1619.2,1317.6C1619.7,1316.8 1620.2,1315.9 1620.6,1316.0C1621.9,1316.4 1621.6,1331.6 1622.1,1339.4C1622.6,1347.2 1622.4,1358.7 1623.5,1362.7C1623.9,1364.2 1624.6,1365.7 1625.0,1365.6C1627.0,1365.1 1626.0,1320.6 1626.4,1292.8C1627.0,1255.5 1627.4,1202.8 1627.9,1161.9C1628.4,1125.8 1629.0,1089.2 1629.4,1060.0C1629.7,1038.1 1629.8,1026.7 1630.0,1002.4C1630.3,960.4 1630.5,880.1 1630.8,830.7C1631.1,793.2 1631.1,759.7 1631.7,731.7C1632.2,711.0 1633.1,677.9 1633.7,677.9C1634.2,677.9 1634.8,704.5 1635.2,717.2C1635.6,729.2 1635.8,740.0 1636.1,752.1C1636.4,765.1 1636.6,781.6 1637.2,792.8C1637.7,800.8 1638.4,806.2 1639.0,813.2C1639.7,820.7 1640.4,828.3 1641.0,836.5C1641.7,845.7 1642.4,855.9 1643.0,865.6C1643.6,875.3 1644.3,885.0 1644.8,894.7C1645.3,904.4 1645.7,914.1 1646.2,923.8C1646.7,933.5 1647.3,942.2 1647.7,952.9C1648.2,966.0 1648.6,983.4 1649.1,996.5C1649.5,1007.2 1650.0,1015.5 1650.3,1025.6C1650.7,1036.6 1650.9,1046.4 1651.2,1060.0C1651.6,1079.8 1652.1,1109.9 1652.6,1132.8C1653.1,1153.3 1653.5,1171.6 1654.1,1191.0C1654.7,1210.4 1655.6,1231.2 1656.4,1249.2C1657.1,1264.8 1657.4,1280.5 1658.5,1292.8C1659.3,1301.8 1660.4,1308.6 1661.4,1316.1C1662.3,1323.1 1663.1,1330.0 1664.3,1336.5C1665.4,1342.6 1666.0,1351.5 1668.1,1354.0C1669.1,1355.2 1670.6,1355.8 1671.6,1355.4C1673.4,1354.7 1674.9,1348.0 1675.9,1345.2C1676.6,1343.2 1676.7,1342.2 1677.3,1340.1C1678.3,1336.5 1680.0,1330.9 1681.1,1325.6C1682.4,1319.4 1683.1,1310.5 1684.6,1305.2C1685.6,1301.6 1686.9,1299.4 1688.0,1296.5C1689.1,1293.6 1690.2,1291.4 1691.0,1287.8C1692.1,1282.5 1692.3,1276.3 1692.7,1267.4C1693.5,1250.6 1693.1,1220.0 1693.3,1194.6C1693.6,1166.8 1693.9,1136.4 1694.2,1107.3C1694.5,1078.2 1694.8,1050.8 1695.0,1020.0C1695.3,985.4 1695.4,950.6 1695.6,910.0C1695.8,859.7 1695.9,788.3 1696.2,741.2C1696.4,707.3 1696.5,676.4 1697.1,653.9C1697.5,639.6 1697.8,619.0 1698.5,619.0C1698.9,619.0 1699.6,627.4 1700.0,633.5C1700.7,644.1 1700.7,663.5 1700.9,677.2C1701.1,689.5 1700.9,702.5 1701.4,712.1C1701.7,718.9 1701.7,726.2 1702.9,729.5C1703.4,731.0 1704.4,730.9 1704.9,732.5C1706.3,736.5 1706.0,747.5 1706.4,755.7C1706.8,764.8 1707.0,774.5 1707.3,784.8C1707.7,796.6 1708.0,809.0 1708.4,822.7C1708.9,838.8 1709.4,857.6 1709.9,875.1C1710.4,892.6 1711.0,911.8 1711.6,927.5C1712.1,940.3 1712.6,950.8 1713.1,962.4C1713.6,974.0 1714.0,986.9 1714.5,997.3C1714.9,1005.7 1715.4,1012.0 1715.7,1020.0C1716.1,1029.1 1716.3,1037.7 1716.6,1049.1C1717.0,1065.2 1717.5,1088.4 1718.0,1107.3C1718.5,1125.2 1719.0,1142.5 1719.5,1159.7C1720.0,1176.4 1720.3,1192.0 1720.9,1209.2C1721.5,1227.8 1722.2,1249.4 1723.0,1267.4C1723.7,1283.0 1724.4,1297.9 1725.3,1311.0C1726.0,1321.7 1726.9,1330.4 1727.6,1340.1C1728.3,1349.8 1728.9,1359.5 1729.7,1369.2C1730.5,1378.9 1731.5,1389.9 1732.6,1398.4C1733.5,1405.0 1734.0,1412.0 1735.5,1415.8C1736.3,1417.9 1737.6,1420.3 1738.4,1420.2C1739.6,1420.0 1740.4,1413.9 1741.3,1410.0C1742.4,1405.0 1743.2,1398.3 1744.2,1392.5C1745.2,1386.7 1746.2,1381.1 1747.1,1375.1C1748.1,1368.6 1749.0,1361.5 1750.0,1354.7C1751.0,1347.9 1751.9,1341.3 1752.9,1334.3C1753.9,1326.8 1754.7,1317.4 1755.9,1311.0C1756.8,1306.4 1757.8,1303.3 1758.8,1299.4C1759.8,1295.5 1760.9,1292.8 1761.7,1287.8C1763.0,1279.3 1763.2,1267.1 1763.7,1252.8C1764.5,1230.2 1764.3,1194.6 1764.6,1165.5C1764.9,1136.4 1765.3,1104.4 1765.5,1078.2C1765.7,1056.8 1765.9,1044.2 1766.0,1020.0C1766.2,980.0 1766.3,911.9 1766.6,860.5C1766.8,812.4 1767.2,761.5 1767.5,720.8C1767.8,689.1 1767.9,658.7 1768.4,636.4C1768.8,621.7 1769.2,600.0 1769.8,600.0C1770.2,600.0 1770.9,613.2 1771.3,621.9C1771.8,634.5 1771.7,653.1 1771.9,668.4C1772.1,683.2 1772.4,697.8 1772.7,712.1C1773.0,725.9 1773.0,744.2 1773.9,752.8C1774.3,756.8 1774.9,758.1 1775.4,761.6C1776.1,767.0 1776.6,774.5 1777.1,781.9C1777.7,790.7 1777.8,801.8 1778.3,811.0C1778.7,819.2 1779.3,825.4 1779.7,834.3C1780.3,846.0 1780.6,863.4 1781.2,875.1C1781.7,883.9 1782.4,888.8 1782.9,898.3C1783.6,913.3 1783.9,939.3 1784.4,956.6C1784.8,970.6 1785.3,983.0 1785.8,994.4C1786.2,1003.8 1786.7,1010.3 1787.0,1020.0C1787.4,1032.6 1787.6,1048.1 1787.9,1063.7C1788.3,1081.7 1788.8,1102.5 1789.3,1121.9C1789.8,1141.3 1790.3,1162.1 1790.8,1180.1C1791.3,1195.7 1791.7,1209.2 1792.2,1223.7C1792.7,1238.3 1793.0,1254.3 1793.7,1267.4C1794.3,1278.1 1795.0,1286.8 1795.7,1296.5C1796.4,1306.2 1797.3,1315.9 1798.1,1325.6C1798.9,1335.3 1799.6,1345.9 1800.4,1354.7C1801.1,1362.1 1801.7,1369.5 1802.4,1375.1C1802.9,1379.0 1803.5,1382.4 1804.0,1385.0C1804.3,1386.7 1804.6,1387.6 1804.9,1389.3C1805.4,1391.8 1805.6,1395.8 1806.3,1398.6C1806.9,1401.0 1807.5,1403.7 1808.6,1405.2C1809.4,1406.3 1810.5,1407.6 1811.4,1407.5C1812.4,1407.4 1813.7,1404.1 1814.4,1404.2C1814.9,1404.2 1815.3,1405.1 1815.6,1406.1C1816.4,1408.6 1816.0,1414.2 1816.1,1420.1C1816.3,1430.2 1816.4,1447.8 1816.6,1461.1C1816.8,1473.8 1817.1,1487.7 1817.5,1498.4C1817.8,1506.5 1817.7,1515.8 1818.4,1519.8C1818.7,1521.4 1819.0,1523.0 1819.4,1523.0C1819.8,1523.0 1820.4,1521.2 1820.8,1519.8C1821.5,1517.1 1821.5,1512.3 1821.7,1507.7C1822.0,1501.6 1822.0,1493.1 1822.2,1486.2C1822.4,1479.8 1822.8,1473.6 1823.1,1467.6C1823.4,1461.9 1823.7,1456.5 1824.0,1450.8C1824.3,1444.8 1824.6,1438.1 1824.9,1432.2C1825.2,1426.8 1825.6,1422.1 1825.9,1416.8C1826.2,1411.2 1826.5,1405.0 1826.8,1399.6C1827.1,1394.7 1827.4,1390.4 1827.7,1385.6C1828.0,1380.5 1828.3,1377.3 1828.6,1370.0C1829.2,1352.6 1829.4,1308.2 1830.1,1281.9C1830.6,1260.5 1831.5,1243.1 1832.1,1223.7C1832.7,1204.3 1833.1,1184.9 1833.6,1165.5C1834.1,1146.1 1834.5,1126.7 1835.0,1107.3C1835.5,1087.9 1836.1,1065.2 1836.5,1049.1C1836.8,1037.7 1837.1,1033.3 1837.3,1020.0C1837.8,991.3 1837.7,931.0 1837.9,883.8C1838.2,832.6 1838.5,774.1 1838.8,723.7C1839.1,678.6 1838.9,628.4 1839.7,595.7C1840.2,575.3 1841.1,546.2 1841.7,546.2C1842.3,546.2 1842.8,576.4 1843.2,592.8C1843.6,611.1 1843.6,633.0 1844.0,651.0C1844.3,666.6 1844.7,681.5 1845.2,694.6C1845.6,705.3 1846.2,714.0 1846.7,723.7C1847.2,733.4 1847.6,743.1 1848.1,752.8C1848.6,762.5 1849.3,772.2 1849.9,781.9C1850.5,791.6 1851.3,801.3 1851.9,811.0C1852.5,820.7 1853.0,829.4 1853.4,840.1C1853.9,853.2 1854.3,868.6 1854.8,883.8C1855.3,900.5 1855.8,920.5 1856.3,936.2C1856.7,949.0 1857.2,959.2 1857.7,971.1C1858.2,983.4 1858.7,1000.0 1859.2,1008.9C1859.5,1013.7 1859.8,1014.8 1860.0,1020.0C1860.5,1031.8 1860.8,1058.8 1861.2,1078.2C1861.7,1097.6 1862.2,1117.0 1862.7,1136.4C1863.2,1155.8 1863.8,1175.7 1864.4,1194.6C1865.0,1212.5 1865.6,1231.3 1866.4,1247.0C1867.1,1259.8 1867.9,1270.8 1868.8,1281.9C1869.7,1292.0 1870.7,1301.3 1871.7,1311.0C1872.7,1320.7 1873.6,1330.4 1874.6,1340.1C1875.6,1349.8 1876.3,1360.4 1877.5,1369.2C1878.5,1376.6 1879.1,1385.4 1881.0,1389.6C1882.0,1391.8 1883.5,1394.2 1884.5,1394.0C1886.1,1393.7 1887.2,1385.8 1888.3,1380.9C1889.7,1374.9 1890.6,1367.3 1891.8,1360.5C1893.0,1353.7 1894.4,1347.5 1895.6,1340.1C1897.1,1331.3 1898.4,1318.5 1899.9,1311.0C1900.8,1306.2 1902.0,1304.3 1902.8,1299.4C1904.1,1291.4 1904.7,1280.2 1905.2,1267.4C1906.0,1248.1 1905.5,1218.9 1905.7,1194.6C1905.9,1170.4 1906.4,1148.2 1906.6,1121.9C1906.9,1090.8 1906.9,1050.0 1907.2,1020.0C1907.4,996.4 1907.9,982.5 1908.1,956.6C1908.5,915.9 1908.5,851.6 1908.7,799.4C1908.9,747.7 1908.8,688.6 1909.5,645.1C1910.0,613.2 1910.9,562.2 1911.6,562.2C1912.0,562.2 1912.6,581.2 1912.9,592.8C1913.3,607.9 1913.2,628.4 1913.5,645.1C1913.7,660.3 1914.0,675.1 1914.4,688.8C1914.8,701.1 1915.2,714.1 1915.8,723.7C1916.2,730.5 1916.8,736.0 1917.3,741.2C1917.7,745.5 1918.3,748.1 1918.7,752.8C1919.3,760.3 1919.8,771.2 1920.2,781.9C1920.7,795.0 1921.1,811.0 1921.6,825.6C1922.1,840.1 1922.6,854.7 1923.1,869.2C1923.6,883.8 1924.1,898.3 1924.6,912.9C1925.1,927.5 1925.5,943.5 1926.0,956.6C1926.4,967.3 1927.0,975.6 1927.5,985.7C1928.0,996.7 1928.5,1006.4 1928.9,1020.0C1929.4,1039.8 1929.4,1069.9 1929.8,1092.8C1930.1,1113.3 1930.5,1131.6 1931.0,1151.0C1931.5,1170.4 1932.1,1190.6 1932.7,1209.2C1933.3,1226.3 1933.9,1241.9 1934.7,1258.6C1935.5,1275.8 1936.6,1294.3 1937.6,1311.0C1938.5,1326.2 1939.5,1341.6 1940.6,1354.7C1941.5,1365.4 1942.4,1375.0 1943.5,1383.8C1944.4,1391.2 1945.1,1398.0 1946.4,1404.2C1947.6,1409.5 1948.7,1417.2 1950.7,1418.7C1951.6,1419.4 1952.8,1419.4 1953.7,1418.7C1956.0,1416.8 1956.6,1405.4 1958.0,1398.4C1959.5,1390.9 1961.0,1383.1 1962.4,1375.1C1963.9,1366.6 1965.4,1358.1 1966.8,1348.9C1968.3,1338.8 1969.9,1327.8 1971.1,1316.9C1972.3,1305.5 1973.2,1295.7 1974.0,1281.9C1975.1,1262.1 1975.9,1233.4 1976.4,1209.2C1976.9,1184.9 1976.7,1163.5 1976.9,1136.4C1977.2,1102.1 1977.5,1059.7 1977.8,1020.0C1978.2,978.5 1978.7,938.8 1979.0,892.5C1979.4,836.9 1979.4,760.5 1979.8,709.2C1980.1,672.0 1980.1,638.6 1980.7,613.1C1981.1,596.2 1981.6,570.9 1982.2,570.9C1982.6,570.9 1983.3,582.4 1983.6,589.8C1984.1,600.3 1984.0,614.0 1984.2,627.7C1984.5,643.8 1984.7,663.4 1985.1,680.1C1985.4,695.3 1985.8,711.4 1986.3,723.7C1986.7,732.7 1987.1,740.1 1987.7,747.0C1988.1,752.4 1988.8,755.7 1989.2,761.6C1989.9,770.7 1990.1,784.6 1990.6,796.5C1991.1,808.8 1991.6,821.5 1992.1,834.3C1992.6,847.6 1993.0,861.1 1993.5,875.1C1994.0,890.1 1994.5,907.2 1995.0,921.6C1995.5,934.1 1995.9,944.9 1996.4,956.6C1996.9,968.2 1997.5,980.5 1997.9,991.5C1998.3,1001.5 1998.5,1008.8 1998.8,1020.0C1999.2,1036.0 1999.3,1058.8 1999.6,1078.2C1999.9,1097.6 2000.3,1117.0 2000.8,1136.4C2001.3,1155.8 2001.9,1176.6 2002.6,1194.6C2003.2,1210.2 2003.9,1222.7 2004.6,1238.3C2005.5,1256.3 2006.5,1278.5 2007.5,1296.5C2008.4,1312.1 2009.4,1326.4 2010.4,1340.1C2011.3,1352.4 2012.0,1364.0 2013.3,1375.1C2014.5,1385.3 2015.4,1397.1 2017.7,1404.2C2019.1,1408.6 2021.4,1414.5 2022.9,1414.4C2024.3,1414.3 2025.3,1408.3 2026.4,1404.2C2028.0,1398.1 2029.4,1389.1 2030.8,1380.9C2032.3,1371.8 2033.7,1361.9 2035.1,1351.8C2036.6,1340.7 2038.1,1328.5 2039.5,1316.9C2040.9,1305.2 2042.3,1294.2 2043.3,1281.9C2044.4,1268.2 2044.8,1254.7 2045.3,1238.3C2046.0,1217.1 2046.4,1190.9 2046.8,1165.5C2047.2,1137.7 2047.5,1104.4 2047.7,1078.2C2047.9,1056.8 2048.0,1042.9 2048.2,1020.0C2048.5,986.8 2048.8,937.1 2049.1,898.3C2049.3,862.9 2049.5,832.0 2049.7,796.5C2050.0,757.6 2050.0,710.9 2050.6,674.2C2051.1,644.1 2051.8,592.2 2052.6,592.2C2053.1,592.2 2053.8,606.1 2054.1,616.0C2054.7,632.2 2054.3,660.8 2054.6,680.1C2054.8,696.0 2055.2,709.7 2055.5,723.7C2055.8,736.8 2056.0,749.2 2056.4,761.6C2056.8,773.5 2057.3,785.4 2057.8,796.5C2058.3,806.6 2058.8,815.9 2059.3,825.6C2059.8,835.3 2060.3,845.0 2060.8,854.7C2061.3,864.4 2061.6,874.1 2062.2,883.8C2062.8,893.5 2063.5,903.2 2064.2,912.9C2064.9,922.6 2065.7,931.3 2066.3,942.0C2067.0,955.1 2067.4,972.0 2068.0,985.7C2068.5,997.8 2069.1,1007.1 2069.5,1020.0C2070.0,1036.8 2070.3,1058.8 2070.7,1078.2C2071.1,1097.6 2071.6,1117.0 2072.1,1136.4C2072.6,1155.8 2073.0,1175.2 2073.6,1194.6C2074.2,1214.0 2074.9,1234.8 2075.9,1252.8C2076.7,1268.4 2077.8,1282.5 2078.8,1296.5C2079.7,1309.6 2080.6,1322.9 2081.7,1334.3C2082.6,1343.8 2083.5,1352.0 2084.6,1360.5C2085.6,1368.5 2086.3,1377.7 2088.1,1383.8C2089.4,1388.0 2091.4,1394.1 2092.8,1394.0C2094.1,1393.9 2095.2,1387.8 2096.3,1383.8C2097.8,1378.2 2099.2,1370.4 2100.6,1363.4C2102.1,1355.9 2103.6,1348.1 2105.0,1340.1C2106.5,1331.7 2107.9,1322.4 2109.4,1314.0C2110.8,1306.0 2112.6,1298.5 2113.7,1290.7C2114.8,1283.0 2115.5,1277.3 2116.1,1267.4C2117.1,1249.9 2116.9,1220.0 2117.2,1194.6C2117.6,1166.8 2117.8,1136.4 2118.1,1107.3C2118.3,1078.2 2118.5,1051.5 2118.7,1020.0C2119.0,982.8 2119.3,942.8 2119.5,898.3C2119.8,844.1 2119.8,769.5 2120.1,717.9C2120.3,679.1 2120.4,643.0 2121.0,616.0C2121.4,598.2 2121.9,571.8 2122.5,571.8C2122.9,571.8 2123.5,583.7 2123.9,592.8C2124.6,609.7 2124.5,642.6 2124.8,665.5C2125.0,686.0 2124.9,707.6 2125.4,723.7C2125.7,735.1 2126.3,743.6 2126.8,752.8C2127.3,761.0 2127.9,767.5 2128.3,776.1C2128.8,786.6 2129.2,799.9 2129.7,811.0C2130.2,821.1 2130.8,829.4 2131.2,840.1C2131.7,853.2 2132.1,870.7 2132.6,883.8C2133.0,894.5 2133.6,902.2 2134.1,912.9C2134.7,926.0 2135.1,942.9 2135.6,956.6C2136.1,968.9 2136.5,980.5 2137.0,991.5C2137.5,1001.5 2138.1,1008.8 2138.5,1020.0C2139.1,1036.0 2139.4,1057.7 2139.9,1078.2C2140.4,1101.1 2140.9,1128.1 2141.4,1151.0C2141.9,1171.5 2142.1,1191.2 2142.8,1209.2C2143.4,1224.8 2144.5,1238.3 2145.2,1252.8C2145.9,1267.4 2146.5,1283.4 2147.2,1296.5C2147.8,1307.2 2147.7,1319.1 2149.2,1325.6C2150.0,1329.1 2151.6,1329.8 2152.4,1333.4C2154.1,1340.3 2154.0,1355.6 2154.9,1365.2C2155.7,1373.2 2156.2,1380.1 2157.3,1387.2C2158.3,1393.9 2159.7,1402.1 2161.0,1406.7C2161.8,1409.4 2162.6,1412.9 2163.4,1412.9C2164.2,1412.9 2165.1,1409.5 2165.9,1406.7C2167.4,1401.3 2168.1,1389.0 2169.6,1382.3C2170.7,1377.5 2171.8,1373.6 2173.2,1370.1C2174.3,1367.3 2175.9,1365.8 2176.9,1362.7C2178.3,1358.3 2178.5,1351.8 2179.3,1345.6C2180.2,1338.2 2180.8,1327.9 2181.8,1321.2C2182.5,1316.4 2183.6,1313.1 2184.2,1309.0C2184.8,1304.9 2185.1,1301.9 2185.5,1296.7C2186.1,1287.7 2186.4,1274.8 2186.7,1260.0C2187.2,1237.4 2187.6,1206.2 2187.9,1174.5C2188.3,1134.7 2188.2,1072.5 2188.4,1040.0C2188.5,1021.5 2188.6,1016.1 2188.7,996.5C2188.9,955.6 2189.0,863.6 2189.3,807.4C2189.5,762.2 2189.6,722.4 2190.2,685.1C2190.7,653.6 2191.7,597.8 2192.5,597.8C2193.0,597.8 2193.9,621.1 2194.2,632.8C2194.5,644.4 2194.3,655.8 2194.5,667.7C2194.7,680.1 2195.4,692.2 2195.7,705.5C2196.1,720.2 2196.2,738.0 2196.6,752.1C2197.0,763.8 2197.5,773.0 2198.0,784.1C2198.5,796.2 2199.0,810.2 2199.5,822.0C2200.0,832.3 2200.4,841.3 2200.9,851.0C2201.4,860.7 2201.9,870.9 2202.4,880.1C2202.9,888.3 2203.3,894.2 2203.8,903.4C2204.5,916.8 2205.2,938.6 2205.9,952.9C2206.5,963.9 2207.1,971.3 2207.6,982.0C2208.2,995.1 2208.7,1009.1 2209.1,1025.6C2209.6,1047.3 2209.5,1080.4 2209.9,1101.1C2210.2,1115.5 2210.7,1126.0 2211.1,1137.8C2211.5,1148.8 2211.9,1158.3 2212.3,1169.6C2212.7,1182.5 2213.1,1198.5 2213.6,1211.1C2214.0,1221.7 2214.0,1235.0 2215.0,1240.5C2215.4,1242.7 2216.2,1244.2 2216.5,1245.0"/>
</g>
<g class="t" fill="#262626" font-size="65">
<text x="238" y="1765" text-anchor="middle">0</text>
<text x="1227" y="1765" text-anchor="middle">5000</text>
<text x="2123" y="1765">10</text>
<text x="2190" y="1765">,</text>
<text x="2214" y="1765">000</text>
<text x="207" y="914.5" text-anchor="end">0.5</text>
<text x="212" y="1565.5" text-anchor="end">0</text>
<text x="212" y="261.5" text-anchor="end">1</text>
</g>
<g class="t" font-size="66" fill="#000">
<text x="933" y="1823" font-style="italic" textLength="38" lengthAdjust="spacingAndGlyphs">n</text>
<text x="996" y="1823">(</text>
<text x="1016" y="1823" font-style="italic">t</text>
<text x="1056" y="1823" textLength="51" lengthAdjust="spacingAndGlyphs">=</text>
<text x="1125" y="1823" font-style="italic" textLength="38" lengthAdjust="spacingAndGlyphs">n</text>
<text x="1177" y="1823">·</text>
<text x="1206" y="1823" font-style="italic" textLength="45" lengthAdjust="spacingAndGlyphs">T</text>
<text x="1250" y="1834" font-style="italic" font-size="46">s</text>
<text x="1292" y="1823">seconds</text>
<text x="1499" y="1823">)</text>
</g>
<g class="t" transform="translate(77,0) rotate(-90)" font-size="68" fill="#000">
<text x="-1276" y="0" textLength="296" lengthAdjust="spacingAndGlyphs">normalized</text>
<text x="-956.5" y="0" textLength="270" lengthAdjust="spacingAndGlyphs">amplitude</text>
<text x="-660" y="0" textLength="139" lengthAdjust="spacingAndGlyphs">(a.u.)</text>
</g>
<g class="t" font-size="81" fill="#000" stroke="#000" stroke-width="2.2">
<text x="533.0" y="79" textLength="174.0" lengthAdjust="spacingAndGlyphs">PPG</text>
<text x="742.0" y="79" textLength="252.5" lengthAdjust="spacingAndGlyphs">sample</text>
<text x="1026.0" y="79" textLength="260.0" lengthAdjust="spacingAndGlyphs">subject</text>
<text x="1325.3" y="79" textLength="32.2" lengthAdjust="spacingAndGlyphs">1</text>
<text x="1392.0" y="79" textLength="162.6" lengthAdjust="spacingAndGlyphs">time</text>
<text x="1585.0" y="79" textLength="336.5" lengthAdjust="spacingAndGlyphs">evolution</text>
</g>
<rect x="1600.5" y="160.5" width="570.5" height="159" fill="#fff" stroke="#262626" stroke-width="2.4"/>
<line x1="1619" y1="204.5" x2="1756" y2="204.5" stroke="#0000ff" stroke-width="3"/>
<line x1="1619" y1="275.5" x2="1756" y2="275.5" stroke="#ff0000" stroke-width="3"/>
<g class="t" font-size="57" fill="#000">
<text x="1773" y="217" textLength="328" lengthAdjust="spacingAndGlyphs">basal behavior</text>
<text x="1767.5" y="289" textLength="346" lengthAdjust="spacingAndGlyphs">stress behavior</text>
</g>
</svg>
</body></html>
